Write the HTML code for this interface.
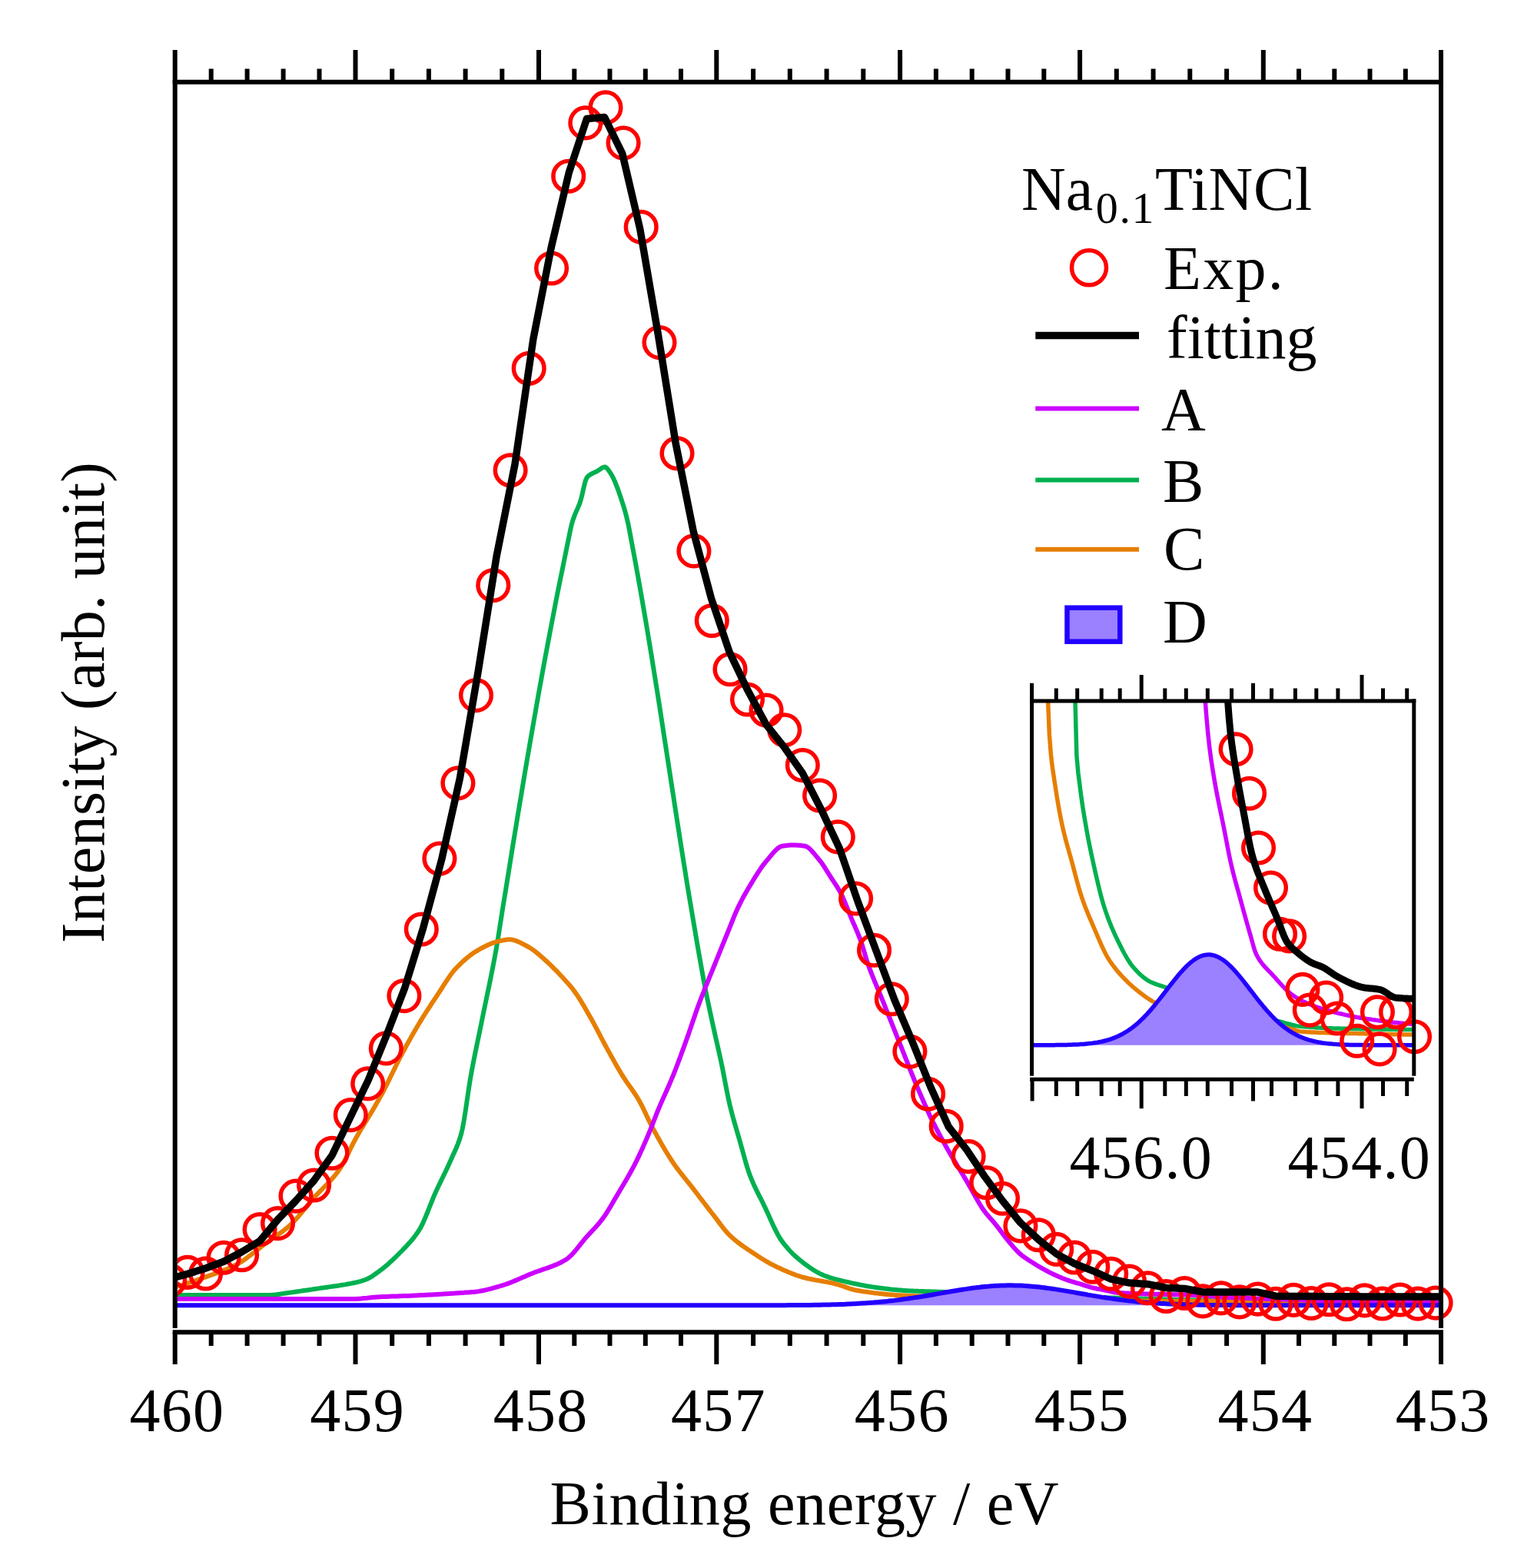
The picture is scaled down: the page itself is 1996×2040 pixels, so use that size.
<!DOCTYPE html>
<html><head><meta charset="utf-8"><title>Na0.1TiNCl XPS</title>
<style>html,body{margin:0;padding:0;background:#fff;overflow:hidden}svg{display:block}</style>
</head><body>
<svg width="1996" height="2040" viewBox="0 0 1996 2040">
<rect width="100%" height="100%" fill="#fff"/>
<defs><clipPath id="cm"><rect x="227" y="100" width="1650" height="1630"/></clipPath><clipPath id="ci"><rect x="1342.6" y="911.9" width="497.2" height="492.3"/></clipPath><clipPath id="cc"><rect x="230.7" y="100" width="1760" height="1628"/></clipPath><clipPath id="cic"><rect x="1345" y="914" width="600" height="488"/></clipPath></defs>
<g clip-path="url(#cm)" fill="none" stroke-linejoin="round" stroke-linecap="butt">
<polyline points="227.7,1684.9 229.7,1684.9 231.7,1684.9 233.7,1684.9 235.7,1684.9 237.7,1684.9 239.7,1684.9 241.7,1684.9 243.7,1684.9 245.7,1684.9 247.7,1684.9 249.7,1684.9 251.7,1684.9 253.7,1684.9 255.7,1684.9 257.7,1684.9 259.7,1684.9 261.7,1684.9 263.7,1684.9 265.7,1684.9 267.7,1684.9 269.7,1684.9 271.7,1684.9 273.7,1684.9 275.7,1684.9 277.7,1684.9 279.7,1684.9 281.7,1684.9 283.7,1684.9 285.7,1684.9 287.7,1684.9 289.7,1684.9 291.7,1684.9 293.7,1684.9 295.7,1684.9 297.7,1684.9 299.7,1684.9 301.7,1684.9 303.7,1684.9 305.7,1684.9 307.7,1684.9 309.7,1684.9 311.7,1684.9 313.7,1684.9 315.7,1684.9 317.7,1684.9 319.7,1684.9 321.7,1684.9 323.7,1684.9 325.7,1684.9 327.7,1684.9 329.7,1684.9 331.7,1684.9 333.7,1684.9 335.7,1684.9 337.7,1684.9 339.7,1684.9 341.7,1684.9 343.7,1684.9 345.7,1684.9 347.7,1684.9 349.7,1684.9 351.7,1684.9 353.7,1684.8 355.7,1684.7 357.7,1684.5 359.7,1684.3 361.7,1684.0 363.7,1683.7 365.7,1683.4 367.7,1683.1 369.7,1682.8 371.7,1682.5 373.7,1682.2 375.7,1681.9 377.7,1681.6 379.7,1681.4 381.7,1681.1 383.7,1680.8 385.7,1680.5 387.7,1680.2 389.7,1679.9 391.7,1679.6 393.7,1679.3 395.7,1679.0 397.7,1678.8 399.7,1678.5 401.7,1678.2 403.7,1677.9 405.7,1677.6 407.7,1677.3 409.7,1677.0 411.7,1676.7 413.7,1676.4 415.7,1676.1 417.7,1675.8 419.7,1675.5 421.7,1675.3 423.7,1675.0 425.7,1674.7 427.7,1674.4 429.7,1674.1 431.7,1673.8 433.7,1673.5 435.7,1673.2 437.7,1673.0 439.7,1672.7 441.7,1672.4 443.7,1672.0 445.7,1671.7 447.7,1671.4 449.7,1671.1 451.7,1670.7 453.7,1670.3 455.7,1670.0 457.7,1669.6 459.7,1669.2 461.7,1668.8 463.7,1668.3 465.7,1667.8 467.7,1667.3 469.7,1666.8 471.7,1666.2 473.7,1665.5 475.7,1664.8 477.7,1664.0 479.7,1663.0 481.7,1661.9 483.7,1660.7 485.7,1659.4 487.7,1658.0 489.7,1656.5 491.7,1655.1 493.7,1653.6 495.7,1652.1 497.7,1650.6 499.7,1649.0 501.7,1647.4 503.7,1645.7 505.7,1643.9 507.7,1642.1 509.7,1640.3 511.7,1638.4 513.7,1636.5 515.7,1634.5 517.7,1632.5 519.7,1630.5 521.7,1628.5 523.7,1626.5 525.7,1624.4 527.7,1622.4 529.7,1620.3 531.7,1618.1 533.7,1615.9 535.7,1613.5 537.7,1611.1 539.7,1608.5 541.7,1605.8 543.7,1602.9 545.7,1599.8 547.7,1596.4 549.7,1592.4 551.7,1588.1 553.7,1583.4 555.7,1578.5 557.7,1573.5 559.7,1568.4 561.7,1563.3 563.7,1558.4 565.7,1553.7 567.7,1549.3 569.7,1545.0 571.7,1540.8 573.7,1536.6 575.7,1532.5 577.7,1528.4 579.7,1524.3 581.7,1520.1 583.7,1515.8 585.7,1511.3 587.7,1506.8 589.7,1502.3 591.7,1497.9 593.7,1493.5 595.7,1488.6 597.7,1483.1 599.7,1476.7 601.7,1468.6 603.7,1457.7 605.7,1445.2 607.7,1431.6 609.7,1418.0 611.7,1405.1 613.7,1393.8 615.7,1383.3 617.7,1373.2 619.7,1363.4 621.7,1353.7 623.7,1344.1 625.7,1334.3 627.7,1324.4 629.7,1314.6 631.7,1305.0 633.7,1295.4 635.7,1285.8 637.7,1276.1 639.7,1266.2 641.7,1256.0 643.7,1245.5 645.7,1234.5 647.7,1222.8 649.7,1210.1 651.7,1197.3 653.7,1184.4 655.7,1172.0 657.7,1159.9 659.7,1147.5 661.7,1135.0 663.7,1122.5 665.7,1110.0 667.7,1097.6 669.7,1085.5 671.7,1073.3 673.7,1061.1 675.7,1049.0 677.7,1037.2 679.7,1025.1 681.7,1012.9 683.7,1000.9 685.7,989.3 687.7,977.7 689.7,966.0 691.7,954.4 693.7,943.0 695.7,931.7 697.7,920.3 699.7,908.9 701.7,897.7 703.7,886.6 705.7,875.6 707.7,864.7 709.7,853.9 711.7,843.2 713.7,832.6 715.7,822.1 717.7,811.8 719.7,801.3 721.7,790.9 723.7,780.5 725.7,770.4 727.7,760.4 729.7,750.6 731.7,740.8 733.7,731.0 735.7,721.1 737.7,711.3 739.7,701.6 741.7,691.6 743.7,682.6 745.7,675.9 747.7,670.4 749.7,665.7 751.7,661.2 753.7,656.4 755.7,650.6 757.7,642.7 759.7,633.7 761.7,625.7 763.7,621.1 765.7,619.2 767.7,617.6 769.7,616.5 771.7,615.5 773.7,614.6 775.7,613.7 777.7,612.6 779.7,611.3 781.7,609.8 783.7,608.5 785.7,607.7 787.7,607.6 789.7,609.1 791.7,611.6 793.7,614.6 795.7,617.7 797.7,621.4 799.7,625.7 801.7,630.6 803.7,635.8 805.7,641.4 807.7,647.3 809.7,653.4 811.7,659.7 813.7,666.6 815.7,674.5 817.7,683.2 819.7,693.6 821.7,704.5 823.7,715.0 825.7,725.7 827.7,736.6 829.7,747.7 831.7,758.9 833.7,770.3 835.7,781.7 837.7,793.3 839.7,805.0 841.7,816.8 843.7,828.8 845.7,840.9 847.7,853.1 849.7,865.6 851.7,878.1 853.7,890.6 855.7,903.1 857.7,915.8 859.7,928.7 861.7,941.8 863.7,955.0 865.7,967.8 867.7,980.7 869.7,993.8 871.7,1006.9 873.7,1019.7 875.7,1032.6 877.7,1045.8 879.7,1058.9 881.7,1071.7 883.7,1084.5 885.7,1097.4 887.7,1110.0 889.7,1122.5 891.7,1135.0 893.7,1147.6 895.7,1159.8 897.7,1171.7 899.7,1183.6 901.7,1195.6 903.7,1207.3 905.7,1219.0 907.7,1230.7 909.7,1242.2 911.7,1253.6 913.7,1264.8 915.7,1275.7 917.7,1286.2 919.7,1296.3 921.7,1305.9 923.7,1315.4 925.7,1324.6 927.7,1333.8 929.7,1343.0 931.7,1351.9 933.7,1360.7 935.7,1369.6 937.7,1378.7 939.7,1388.2 941.7,1398.3 943.7,1408.9 945.7,1419.3 947.7,1429.1 949.7,1438.0 951.7,1446.0 953.7,1453.5 955.7,1460.6 957.7,1467.5 959.7,1474.3 961.7,1481.2 963.7,1488.2 965.7,1495.5 967.7,1502.8 969.7,1510.0 971.7,1516.8 973.7,1523.2 975.7,1528.8 977.7,1533.9 979.7,1538.6 981.7,1543.1 983.7,1547.3 985.7,1551.3 987.7,1555.3 989.7,1559.2 991.7,1563.1 993.7,1567.2 995.7,1571.4 997.7,1575.7 999.7,1580.1 1001.7,1584.6 1003.7,1589.0 1005.7,1593.4 1007.7,1597.6 1009.7,1601.7 1011.7,1605.5 1013.7,1609.1 1015.7,1612.3 1017.7,1615.2 1019.7,1617.8 1021.7,1620.3 1023.7,1622.7 1025.7,1625.0 1027.7,1627.2 1029.7,1629.3 1031.7,1631.3 1033.7,1633.2 1035.7,1635.0 1037.7,1636.8 1039.7,1638.5 1041.7,1640.2 1043.7,1641.7 1045.7,1643.3 1047.7,1644.8 1049.7,1646.2 1051.7,1647.7 1053.7,1649.1 1055.7,1650.4 1057.7,1651.7 1059.7,1653.0 1061.7,1654.2 1063.7,1655.3 1065.7,1656.4 1067.7,1657.4 1069.7,1658.3 1071.7,1659.2 1073.7,1660.0 1075.7,1660.7 1077.7,1661.4 1079.7,1662.1 1081.7,1662.7 1083.7,1663.3 1085.7,1663.9 1087.7,1664.4 1089.7,1664.9 1091.7,1665.4 1093.7,1665.9 1095.7,1666.4 1097.7,1666.9 1099.7,1667.3 1101.7,1667.8 1103.7,1668.2 1105.7,1668.7 1107.7,1669.1 1109.7,1669.6 1111.7,1670.0 1113.7,1670.4 1115.7,1670.8 1117.7,1671.2 1119.7,1671.6 1121.7,1672.0 1123.7,1672.4 1125.7,1672.8 1127.7,1673.1 1129.7,1673.5 1131.7,1673.8 1133.7,1674.1 1135.7,1674.4 1137.7,1674.7 1139.7,1675.0 1141.7,1675.3 1143.7,1675.5 1145.7,1675.8 1147.7,1676.1 1149.7,1676.3 1151.7,1676.6 1153.7,1676.8 1155.7,1677.0 1157.7,1677.3 1159.7,1677.5 1161.7,1677.7 1163.7,1677.9 1165.7,1678.1 1167.7,1678.3 1169.7,1678.5 1171.7,1678.6 1173.7,1678.8 1175.7,1679.0 1177.7,1679.1 1179.7,1679.2 1181.7,1679.3 1183.7,1679.4 1185.7,1679.5 1187.7,1679.6 1189.7,1679.7 1191.7,1679.8 1193.7,1679.8 1195.7,1679.9 1197.7,1680.0 1199.7,1680.0 1201.7,1680.1 1203.7,1680.2 1205.7,1680.2 1207.7,1680.3 1209.7,1680.3 1211.7,1680.4 1213.7,1680.5 1215.7,1680.5 1217.7,1680.6 1219.7,1680.7 1221.7,1680.7 1223.7,1680.8 1225.7,1680.8 1227.7,1680.9 1229.7,1681.0 1231.7,1681.0 1233.7,1681.1 1235.7,1681.1 1237.7,1681.2 1239.7,1681.3 1241.7,1681.3 1243.7,1681.4 1245.7,1681.4 1247.7,1681.5 1249.7,1681.5 1251.7,1681.6 1253.7,1681.6 1255.7,1681.7 1257.7,1681.8 1259.7,1681.8 1261.7,1681.9 1263.7,1681.9 1265.7,1682.0 1267.7,1682.0 1269.7,1682.1 1271.7,1682.1 1273.7,1682.2 1275.7,1682.3 1277.7,1682.3 1279.7,1682.4 1281.7,1682.4 1283.7,1682.5 1285.7,1682.5 1287.7,1682.6 1289.7,1682.7 1291.7,1682.7 1293.7,1682.8 1295.7,1682.9 1297.7,1682.9 1299.7,1683.0 1301.7,1683.1 1303.7,1683.1 1305.7,1683.2 1307.7,1683.3 1309.7,1683.3 1311.7,1683.4 1313.7,1683.5 1315.7,1683.6 1317.7,1683.6 1319.7,1683.7 1321.7,1683.8 1323.7,1683.9 1325.7,1684.0 1327.7,1684.0 1329.7,1684.1 1331.7,1684.2 1333.7,1684.3 1335.7,1684.4 1337.7,1684.5 1339.7,1684.6 1341.7,1684.6 1343.7,1684.7 1345.7,1684.8 1347.7,1684.9 1349.7,1685.0 1351.7,1685.1 1353.7,1685.2 1355.7,1685.2 1357.7,1685.3 1359.7,1685.4 1361.7,1685.5 1363.7,1685.6 1365.7,1685.7 1367.7,1685.7 1369.7,1685.8 1371.7,1685.9 1373.7,1686.0 1375.7,1686.1 1377.7,1686.2 1379.7,1686.2 1381.7,1686.3 1383.7,1686.4 1385.7,1686.5 1387.7,1686.6 1389.7,1686.6 1391.7,1686.7 1393.7,1686.8 1395.7,1686.8 1397.7,1686.9 1399.7,1687.0 1401.7,1687.1 1403.7,1687.1 1405.7,1687.2 1407.7,1687.3 1409.7,1687.3 1411.7,1687.4 1413.7,1687.5 1415.7,1687.5 1417.7,1687.6 1419.7,1687.7 1421.7,1687.7 1423.7,1687.8 1425.7,1687.9 1427.7,1687.9 1429.7,1688.0 1431.7,1688.0 1433.7,1688.1 1435.7,1688.2 1437.7,1688.2 1439.7,1688.3 1441.7,1688.4 1443.7,1688.4 1445.7,1688.5 1447.7,1688.5 1449.7,1688.6 1451.7,1688.7 1453.7,1688.7 1455.7,1688.8 1457.7,1688.8 1459.7,1688.9 1461.7,1688.9 1463.7,1689.0 1465.7,1689.1 1467.7,1689.1 1469.7,1689.2 1471.7,1689.2 1473.7,1689.3 1475.7,1689.3 1477.7,1689.4 1479.7,1689.5 1481.7,1689.5 1483.7,1689.6 1485.7,1689.6 1487.7,1689.7 1489.7,1689.7 1491.7,1689.8 1493.7,1689.8 1495.7,1689.9 1497.7,1689.9 1499.7,1690.0 1501.7,1690.0 1503.7,1690.1 1505.7,1690.2 1507.7,1690.2 1509.7,1690.3 1511.7,1690.3 1513.7,1690.4 1515.7,1690.4 1517.7,1690.5 1519.7,1690.5 1521.7,1690.6 1523.7,1690.7 1525.7,1690.7 1527.7,1690.8 1529.7,1690.8 1531.7,1690.9 1533.7,1691.0 1535.7,1691.0 1537.7,1691.1 1539.7,1691.1 1541.7,1691.2 1543.7,1691.3 1545.7,1691.3 1547.7,1691.4 1549.7,1691.4 1551.7,1691.5 1553.7,1691.6 1555.7,1691.6 1557.7,1691.7 1559.7,1691.7 1561.7,1691.8 1563.7,1691.9 1565.7,1691.9 1567.7,1692.0 1569.7,1692.0 1571.7,1692.1 1573.7,1692.1 1575.7,1692.2 1577.7,1692.2 1579.7,1692.3 1581.7,1692.3 1583.7,1692.4 1585.7,1692.5 1587.7,1692.5 1589.7,1692.6 1591.7,1692.6 1593.7,1692.6 1595.7,1692.7 1597.7,1692.7 1599.7,1692.8 1601.7,1692.8 1603.7,1692.9 1605.7,1692.9 1607.7,1692.9 1609.7,1693.0 1611.7,1693.0 1613.7,1693.1 1615.7,1693.1 1617.7,1693.1 1619.7,1693.1 1621.7,1693.2 1623.7,1693.2 1625.7,1693.2 1627.7,1693.3 1629.7,1693.3 1631.7,1693.3 1633.7,1693.3 1635.7,1693.3 1637.7,1693.3 1639.7,1693.4 1641.7,1693.4 1643.7,1693.4 1645.7,1693.4 1647.7,1693.4 1649.7,1693.4 1651.7,1693.4 1653.7,1693.4 1655.7,1693.4 1657.7,1693.4 1659.7,1693.4 1661.7,1693.4 1663.7,1693.4 1665.7,1693.4 1667.7,1693.4 1669.7,1693.4 1671.7,1693.4 1673.7,1693.4 1675.7,1693.4 1677.7,1693.4 1679.7,1693.4 1681.7,1693.4 1683.7,1693.4 1685.7,1693.4 1687.7,1693.4 1689.7,1693.4 1691.7,1693.4 1693.7,1693.4 1695.7,1693.4 1697.7,1693.4 1699.7,1693.4 1701.7,1693.4 1703.7,1693.4 1705.7,1693.4 1707.7,1693.4 1709.7,1693.4 1711.7,1693.4 1713.7,1693.5 1715.7,1693.5 1717.7,1693.5 1719.7,1693.5 1721.7,1693.5 1723.7,1693.5 1725.7,1693.5 1727.7,1693.5 1729.7,1693.5 1731.7,1693.5 1733.7,1693.5 1735.7,1693.5 1737.7,1693.5 1739.7,1693.5 1741.7,1693.5 1743.7,1693.5 1745.7,1693.5 1747.7,1693.5 1749.7,1693.5 1751.7,1693.5 1753.7,1693.5 1755.7,1693.5 1757.7,1693.5 1759.7,1693.5 1761.7,1693.5 1763.7,1693.5 1765.7,1693.5 1767.7,1693.5 1769.7,1693.5 1771.7,1693.5 1773.7,1693.5 1775.7,1693.5 1777.7,1693.5 1779.7,1693.5 1781.7,1693.5 1783.7,1693.5 1785.7,1693.5 1787.7,1693.5 1789.7,1693.5 1791.7,1693.5 1793.7,1693.5 1795.7,1693.5 1797.7,1693.5 1799.7,1693.5 1801.7,1693.5 1803.7,1693.5 1805.7,1693.5 1807.7,1693.5 1809.7,1693.5 1811.7,1693.5 1813.7,1693.5 1815.7,1693.5 1817.7,1693.5 1819.7,1693.5 1821.7,1693.5 1823.7,1693.5 1825.7,1693.5 1827.7,1693.5 1829.7,1693.5 1831.7,1693.5 1833.7,1693.5 1835.7,1693.5 1837.7,1693.5 1839.7,1693.5 1841.7,1693.5 1843.7,1693.5 1845.7,1693.5 1847.7,1693.5 1849.7,1693.5 1851.7,1693.5 1853.7,1693.5 1855.7,1693.5 1857.7,1693.5 1859.7,1693.5 1861.7,1693.5 1863.7,1693.5 1865.7,1693.5 1867.7,1693.5 1869.7,1693.5 1871.7,1693.5 1873.7,1693.5 1875.0,1693.5" stroke="#00b050" stroke-width="6"/>
<polyline points="227.7,1674.6 229.7,1674.0 231.7,1673.4 233.7,1672.8 235.7,1672.2 237.7,1671.5 239.7,1670.9 241.7,1670.3 243.7,1669.6 245.7,1669.0 247.7,1668.3 249.7,1667.6 251.7,1667.0 253.7,1666.3 255.7,1665.6 257.7,1664.9 259.7,1664.2 261.7,1663.5 263.7,1662.8 265.7,1662.1 267.7,1661.4 269.7,1660.6 271.7,1659.9 273.7,1659.2 275.7,1658.5 277.7,1657.8 279.7,1657.1 281.7,1656.4 283.7,1655.6 285.7,1654.9 287.7,1654.1 289.7,1653.4 291.7,1652.6 293.7,1651.8 295.7,1650.9 297.7,1650.1 299.7,1649.2 301.7,1648.3 303.7,1647.3 305.7,1646.3 307.7,1645.3 309.7,1644.2 311.7,1643.0 313.7,1641.7 315.7,1640.4 317.7,1639.1 319.7,1637.7 321.7,1636.2 323.7,1634.7 325.7,1633.2 327.7,1631.6 329.7,1630.1 331.7,1628.5 333.7,1626.9 335.7,1625.3 337.7,1623.8 339.7,1622.2 341.7,1620.6 343.7,1619.1 345.7,1617.6 347.7,1616.2 349.7,1614.7 351.7,1613.3 353.7,1611.9 355.7,1610.5 357.7,1609.1 359.7,1607.8 361.7,1606.3 363.7,1604.9 365.7,1603.5 367.7,1602.0 369.7,1600.4 371.7,1598.8 373.7,1597.2 375.7,1595.5 377.7,1593.7 379.7,1591.8 381.7,1589.8 383.7,1587.7 385.7,1585.5 387.7,1583.3 389.7,1580.9 391.7,1578.6 393.7,1576.1 395.7,1573.7 397.7,1571.2 399.7,1568.8 401.7,1566.3 403.7,1563.9 405.7,1561.5 407.7,1559.2 409.7,1556.9 411.7,1554.7 413.7,1552.6 415.7,1550.6 417.7,1548.5 419.7,1546.5 421.7,1544.5 423.7,1542.5 425.7,1540.5 427.7,1538.4 429.7,1536.3 431.7,1534.0 433.7,1531.7 435.7,1529.3 437.7,1526.8 439.7,1524.1 441.7,1521.3 443.7,1518.2 445.7,1514.7 447.7,1511.1 449.7,1507.3 451.7,1503.3 453.7,1499.3 455.7,1495.2 457.7,1491.2 459.7,1487.2 461.7,1483.4 463.7,1479.7 465.7,1476.2 467.7,1472.7 469.7,1469.4 471.7,1466.1 473.7,1462.8 475.7,1459.5 477.7,1456.3 479.7,1453.0 481.7,1449.7 483.7,1446.4 485.7,1443.0 487.7,1439.6 489.7,1436.1 491.7,1432.6 493.7,1429.0 495.7,1425.4 497.7,1421.7 499.7,1417.9 501.7,1414.0 503.7,1410.1 505.7,1406.0 507.7,1401.9 509.7,1397.8 511.7,1393.7 513.7,1389.6 515.7,1385.5 517.7,1381.5 519.7,1377.5 521.7,1373.7 523.7,1369.9 525.7,1366.2 527.7,1362.5 529.7,1358.8 531.7,1355.2 533.7,1351.6 535.7,1348.1 537.7,1344.6 539.7,1341.1 541.7,1337.7 543.7,1334.3 545.7,1330.9 547.7,1327.6 549.7,1324.4 551.7,1321.2 553.7,1318.0 555.7,1314.9 557.7,1311.8 559.7,1308.8 561.7,1305.7 563.7,1302.7 565.7,1299.7 567.7,1296.7 569.7,1293.7 571.7,1290.6 573.7,1287.5 575.7,1284.4 577.7,1281.2 579.7,1278.1 581.7,1275.1 583.7,1272.1 585.7,1269.2 587.7,1266.5 589.7,1263.9 591.7,1261.5 593.7,1259.4 595.7,1257.3 597.7,1255.3 599.7,1253.3 601.7,1251.4 603.7,1249.6 605.7,1247.9 607.7,1246.2 609.7,1244.6 611.7,1243.0 613.7,1241.5 615.7,1240.1 617.7,1238.8 619.7,1237.6 621.7,1236.4 623.7,1235.2 625.7,1234.1 627.7,1233.0 629.7,1232.0 631.7,1231.0 633.7,1230.0 635.7,1229.1 637.7,1228.2 639.7,1227.4 641.7,1226.7 643.7,1226.0 645.7,1225.4 647.7,1224.9 649.7,1224.4 651.7,1223.9 653.7,1223.5 655.7,1223.1 657.7,1222.7 659.7,1222.5 661.7,1222.3 663.7,1222.3 665.7,1222.5 667.7,1222.9 669.7,1223.4 671.7,1224.1 673.7,1224.9 675.7,1225.8 677.7,1226.7 679.7,1227.8 681.7,1228.8 683.7,1229.9 685.7,1231.0 687.7,1232.0 689.7,1233.2 691.7,1234.5 693.7,1235.9 695.7,1237.4 697.7,1239.0 699.7,1240.6 701.7,1242.3 703.7,1244.1 705.7,1245.8 707.7,1247.6 709.7,1249.4 711.7,1251.1 713.7,1253.0 715.7,1254.9 717.7,1256.8 719.7,1258.8 721.7,1260.8 723.7,1262.8 725.7,1264.9 727.7,1267.0 729.7,1269.2 731.7,1271.3 733.7,1273.5 735.7,1275.7 737.7,1277.9 739.7,1280.1 741.7,1282.5 743.7,1284.9 745.7,1287.4 747.7,1290.1 749.7,1292.9 751.7,1295.9 753.7,1299.0 755.7,1302.2 757.7,1305.5 759.7,1308.8 761.7,1312.3 763.7,1315.7 765.7,1319.2 767.7,1322.7 769.7,1326.2 771.7,1329.9 773.7,1333.6 775.7,1337.4 777.7,1341.2 779.7,1345.0 781.7,1348.9 783.7,1352.7 785.7,1356.5 787.7,1360.2 789.7,1363.9 791.7,1367.5 793.7,1371.1 795.7,1374.7 797.7,1378.3 799.7,1381.9 801.7,1385.4 803.7,1388.9 805.7,1392.3 807.7,1395.7 809.7,1399.0 811.7,1402.1 813.7,1405.2 815.7,1408.1 817.7,1411.0 819.7,1413.8 821.7,1416.6 823.7,1419.5 825.7,1422.5 827.7,1425.5 829.7,1428.7 831.7,1432.1 833.7,1435.8 835.7,1439.7 837.7,1443.8 839.7,1447.9 841.7,1452.2 843.7,1456.4 845.7,1460.5 847.7,1464.5 849.7,1468.3 851.7,1472.0 853.7,1475.6 855.7,1479.2 857.7,1482.8 859.7,1486.4 861.7,1489.9 863.7,1493.3 865.7,1496.7 867.7,1500.0 869.7,1503.3 871.7,1506.4 873.7,1509.5 875.7,1512.5 877.7,1515.4 879.7,1518.2 881.7,1520.9 883.7,1523.5 885.7,1526.1 887.7,1528.7 889.7,1531.2 891.7,1533.7 893.7,1536.1 895.7,1538.6 897.7,1541.1 899.7,1543.6 901.7,1546.2 903.7,1548.8 905.7,1551.4 907.7,1554.0 909.7,1556.7 911.7,1559.3 913.7,1561.9 915.7,1564.5 917.7,1567.1 919.7,1569.7 921.7,1572.3 923.7,1574.9 925.7,1577.5 927.7,1580.0 929.7,1582.6 931.7,1585.2 933.7,1587.9 935.7,1590.6 937.7,1593.3 939.7,1595.9 941.7,1598.5 943.7,1600.9 945.7,1603.2 947.7,1605.4 949.7,1607.4 951.7,1609.2 953.7,1611.0 955.7,1612.7 957.7,1614.4 959.7,1616.0 961.7,1617.5 963.7,1619.0 965.7,1620.5 967.7,1621.9 969.7,1623.3 971.7,1624.6 973.7,1626.0 975.7,1627.3 977.7,1628.6 979.7,1630.0 981.7,1631.3 983.7,1632.6 985.7,1633.9 987.7,1635.2 989.7,1636.5 991.7,1637.8 993.7,1639.0 995.7,1640.2 997.7,1641.4 999.7,1642.5 1001.7,1643.7 1003.7,1644.7 1005.7,1645.8 1007.7,1646.7 1009.7,1647.7 1011.7,1648.7 1013.7,1649.6 1015.7,1650.5 1017.7,1651.5 1019.7,1652.4 1021.7,1653.3 1023.7,1654.1 1025.7,1655.0 1027.7,1655.8 1029.7,1656.6 1031.7,1657.4 1033.7,1658.1 1035.7,1658.9 1037.7,1659.6 1039.7,1660.2 1041.7,1660.9 1043.7,1661.5 1045.7,1662.0 1047.7,1662.5 1049.7,1663.0 1051.7,1663.5 1053.7,1663.9 1055.7,1664.3 1057.7,1664.7 1059.7,1665.1 1061.7,1665.5 1063.7,1665.8 1065.7,1666.1 1067.7,1666.5 1069.7,1666.8 1071.7,1667.2 1073.7,1667.5 1075.7,1667.9 1077.7,1668.3 1079.7,1668.7 1081.7,1669.1 1083.7,1669.5 1085.7,1670.0 1087.7,1670.5 1089.7,1671.1 1091.7,1671.7 1093.7,1672.3 1095.7,1673.0 1097.7,1673.7 1099.7,1674.4 1101.7,1675.1 1103.7,1675.8 1105.7,1676.5 1107.7,1677.1 1109.7,1677.7 1111.7,1678.2 1113.7,1678.6 1115.7,1679.0 1117.7,1679.3 1119.7,1679.6 1121.7,1680.0 1123.7,1680.3 1125.7,1680.5 1127.7,1680.8 1129.7,1681.1 1131.7,1681.4 1133.7,1681.6 1135.7,1681.9 1137.7,1682.2 1139.7,1682.4 1141.7,1682.6 1143.7,1682.9 1145.7,1683.1 1147.7,1683.3 1149.7,1683.5 1151.7,1683.7 1153.7,1683.9 1155.7,1684.1 1157.7,1684.2 1159.7,1684.4 1161.7,1684.6 1163.7,1684.7 1165.7,1684.9 1167.7,1685.0 1169.7,1685.2 1171.7,1685.3 1173.7,1685.4 1175.7,1685.5 1177.7,1685.6 1179.7,1685.7 1181.7,1685.8 1183.7,1685.9 1185.7,1686.0 1187.7,1686.1 1189.7,1686.2 1191.7,1686.2 1193.7,1686.3 1195.7,1686.4 1197.7,1686.5 1199.7,1686.5 1201.7,1686.6 1203.7,1686.7 1205.7,1686.8 1207.7,1686.8 1209.7,1686.9 1211.7,1687.0 1213.7,1687.0 1215.7,1687.1 1217.7,1687.1 1219.7,1687.2 1221.7,1687.3 1223.7,1687.3 1225.7,1687.4 1227.7,1687.4 1229.7,1687.5 1231.7,1687.5 1233.7,1687.6 1235.7,1687.6 1237.7,1687.7 1239.7,1687.7 1241.7,1687.8 1243.7,1687.8 1245.7,1687.9 1247.7,1687.9 1249.7,1687.9 1251.7,1688.0 1253.7,1688.0 1255.7,1688.1 1257.7,1688.1 1259.7,1688.2 1261.7,1688.2 1263.7,1688.2 1265.7,1688.3 1267.7,1688.3 1269.7,1688.4 1271.7,1688.4 1273.7,1688.4 1275.7,1688.5 1277.7,1688.5 1279.7,1688.6 1281.7,1688.6 1283.7,1688.7 1285.7,1688.7 1287.7,1688.7 1289.7,1688.8 1291.7,1688.8 1293.7,1688.9 1295.7,1688.9 1297.7,1688.9 1299.7,1689.0 1301.7,1689.0 1303.7,1689.1 1305.7,1689.1 1307.7,1689.2 1309.7,1689.2 1311.7,1689.3 1313.7,1689.3 1315.7,1689.4 1317.7,1689.4 1319.7,1689.4 1321.7,1689.5 1323.7,1689.5 1325.7,1689.6 1327.7,1689.6 1329.7,1689.7 1331.7,1689.7 1333.7,1689.8 1335.7,1689.8 1337.7,1689.9 1339.7,1689.9 1341.7,1689.9 1343.7,1690.0 1345.7,1690.0 1347.7,1690.1 1349.7,1690.1 1351.7,1690.2 1353.7,1690.2 1355.7,1690.3 1357.7,1690.3 1359.7,1690.4 1361.7,1690.4 1363.7,1690.4 1365.7,1690.5 1367.7,1690.5 1369.7,1690.6 1371.7,1690.6 1373.7,1690.7 1375.7,1690.7 1377.7,1690.7 1379.7,1690.8 1381.7,1690.8 1383.7,1690.9 1385.7,1690.9 1387.7,1691.0 1389.7,1691.0 1391.7,1691.0 1393.7,1691.1 1395.7,1691.1 1397.7,1691.2 1399.7,1691.2 1401.7,1691.2 1403.7,1691.3 1405.7,1691.3 1407.7,1691.4 1409.7,1691.4 1411.7,1691.4 1413.7,1691.5 1415.7,1691.5 1417.7,1691.5 1419.7,1691.6 1421.7,1691.6 1423.7,1691.6 1425.7,1691.7 1427.7,1691.7 1429.7,1691.7 1431.7,1691.8 1433.7,1691.8 1435.7,1691.8 1437.7,1691.9 1439.7,1691.9 1441.7,1691.9 1443.7,1692.0 1445.7,1692.0 1447.7,1692.0 1449.7,1692.1 1451.7,1692.1 1453.7,1692.1 1455.7,1692.1 1457.7,1692.2 1459.7,1692.2 1461.7,1692.2 1463.7,1692.2 1465.7,1692.3 1467.7,1692.3 1469.7,1692.3 1471.7,1692.3 1473.7,1692.3 1475.7,1692.4 1477.7,1692.4 1479.7,1692.4 1481.7,1692.4 1483.7,1692.4 1485.7,1692.5 1487.7,1692.5 1489.7,1692.5 1491.7,1692.5 1493.7,1692.5 1495.7,1692.5 1497.7,1692.6 1499.7,1692.6 1501.7,1692.6 1503.7,1692.6 1505.7,1692.6 1507.7,1692.6 1509.7,1692.6 1511.7,1692.7 1513.7,1692.7 1515.7,1692.7 1517.7,1692.7 1519.7,1692.7 1521.7,1692.7 1523.7,1692.8 1525.7,1692.8 1527.7,1692.8 1529.7,1692.8 1531.7,1692.8 1533.7,1692.8 1535.7,1692.8 1537.7,1692.8 1539.7,1692.9 1541.7,1692.9 1543.7,1692.9 1545.7,1692.9 1547.7,1692.9 1549.7,1692.9 1551.7,1692.9 1553.7,1692.9 1555.7,1693.0 1557.7,1693.0 1559.7,1693.0 1561.7,1693.0 1563.7,1693.0 1565.7,1693.0 1567.7,1693.0 1569.7,1693.0 1571.7,1693.1 1573.7,1693.1 1575.7,1693.1 1577.7,1693.1 1579.7,1693.1 1581.7,1693.1 1583.7,1693.1 1585.7,1693.1 1587.7,1693.1 1589.7,1693.1 1591.7,1693.2 1593.7,1693.2 1595.7,1693.2 1597.7,1693.2 1599.7,1693.2 1601.7,1693.2 1603.7,1693.2 1605.7,1693.2 1607.7,1693.2 1609.7,1693.2 1611.7,1693.3 1613.7,1693.3 1615.7,1693.3 1617.7,1693.3 1619.7,1693.3 1621.7,1693.3 1623.7,1693.3 1625.7,1693.3 1627.7,1693.3 1629.7,1693.3 1631.7,1693.3 1633.7,1693.3 1635.7,1693.4 1637.7,1693.4 1639.7,1693.4 1641.7,1693.4 1643.7,1693.4 1645.7,1693.4 1647.7,1693.4 1649.7,1693.4 1651.7,1693.4 1653.7,1693.4 1655.7,1693.4 1657.7,1693.4 1659.7,1693.4 1661.7,1693.5 1663.7,1693.5 1665.7,1693.5 1667.7,1693.5 1669.7,1693.5 1671.7,1693.5 1673.7,1693.5 1675.7,1693.5 1677.7,1693.5 1679.7,1693.5 1681.7,1693.5 1683.7,1693.5 1685.7,1693.5 1687.7,1693.5 1689.7,1693.6 1691.7,1693.6 1693.7,1693.6 1695.7,1693.6 1697.7,1693.6 1699.7,1693.6 1701.7,1693.6 1703.7,1693.6 1705.7,1693.6 1707.7,1693.6 1709.7,1693.6 1711.7,1693.6 1713.7,1693.6 1715.7,1693.6 1717.7,1693.6 1719.7,1693.7 1721.7,1693.7 1723.7,1693.7 1725.7,1693.7 1727.7,1693.7 1729.7,1693.7 1731.7,1693.7 1733.7,1693.7 1735.7,1693.7 1737.7,1693.7 1739.7,1693.7 1741.7,1693.7 1743.7,1693.7 1745.7,1693.7 1747.7,1693.7 1749.7,1693.8 1751.7,1693.8 1753.7,1693.8 1755.7,1693.8 1757.7,1693.8 1759.7,1693.8 1761.7,1693.8 1763.7,1693.8 1765.7,1693.8 1767.7,1693.8 1769.7,1693.8 1771.7,1693.8 1773.7,1693.8 1775.7,1693.8 1777.7,1693.8 1779.7,1693.8 1781.7,1693.8 1783.7,1693.8 1785.7,1693.8 1787.7,1693.9 1789.7,1693.9 1791.7,1693.9 1793.7,1693.9 1795.7,1693.9 1797.7,1693.9 1799.7,1693.9 1801.7,1693.9 1803.7,1693.9 1805.7,1693.9 1807.7,1693.9 1809.7,1693.9 1811.7,1693.9 1813.7,1693.9 1815.7,1693.9 1817.7,1693.9 1819.7,1693.9 1821.7,1693.9 1823.7,1693.9 1825.7,1693.9 1827.7,1693.9 1829.7,1693.9 1831.7,1693.9 1833.7,1694.0 1835.7,1694.0 1837.7,1694.0 1839.7,1694.0 1841.7,1694.0 1843.7,1694.0 1845.7,1694.0 1847.7,1694.0 1849.7,1694.0 1851.7,1694.0 1853.7,1694.0 1855.7,1694.0 1857.7,1694.0 1859.7,1694.0 1861.7,1694.0 1863.7,1694.0 1865.7,1694.0 1867.7,1694.0 1869.7,1694.0 1871.7,1694.0 1873.7,1694.0 1875.0,1694.0" stroke="#e67e00" stroke-width="6"/>
<polyline points="227.7,1690.0 229.7,1690.0 231.7,1690.0 233.7,1690.0 235.7,1690.0 237.7,1690.0 239.7,1690.0 241.7,1690.0 243.7,1690.0 245.7,1690.0 247.7,1690.0 249.7,1690.0 251.7,1690.0 253.7,1690.0 255.7,1690.0 257.7,1690.0 259.7,1690.0 261.7,1690.0 263.7,1690.0 265.7,1690.0 267.7,1690.0 269.7,1690.0 271.7,1690.0 273.7,1690.0 275.7,1690.0 277.7,1690.0 279.7,1690.0 281.7,1690.0 283.7,1690.0 285.7,1690.0 287.7,1690.0 289.7,1690.0 291.7,1690.0 293.7,1690.0 295.7,1690.0 297.7,1690.0 299.7,1690.0 301.7,1690.0 303.7,1690.0 305.7,1690.0 307.7,1690.0 309.7,1690.0 311.7,1690.0 313.7,1690.0 315.7,1690.0 317.7,1690.0 319.7,1690.0 321.7,1690.0 323.7,1690.0 325.7,1690.0 327.7,1690.0 329.7,1690.0 331.7,1690.0 333.7,1690.0 335.7,1690.0 337.7,1690.0 339.7,1690.0 341.7,1690.0 343.7,1690.0 345.7,1690.0 347.7,1690.0 349.7,1690.0 351.7,1690.0 353.7,1690.0 355.7,1690.0 357.7,1690.0 359.7,1690.0 361.7,1690.0 363.7,1690.0 365.7,1690.0 367.7,1690.0 369.7,1690.0 371.7,1690.0 373.7,1690.0 375.7,1690.0 377.7,1690.0 379.7,1690.0 381.7,1690.0 383.7,1690.0 385.7,1690.0 387.7,1690.0 389.7,1690.0 391.7,1690.0 393.7,1690.0 395.7,1690.0 397.7,1690.0 399.7,1690.0 401.7,1690.0 403.7,1690.0 405.7,1690.0 407.7,1690.0 409.7,1690.0 411.7,1690.0 413.7,1690.0 415.7,1690.0 417.7,1690.0 419.7,1690.0 421.7,1690.0 423.7,1690.0 425.7,1690.0 427.7,1690.0 429.7,1690.0 431.7,1690.0 433.7,1690.0 435.7,1690.0 437.7,1690.0 439.7,1690.0 441.7,1690.0 443.7,1690.0 445.7,1690.0 447.7,1690.0 449.7,1690.0 451.7,1690.0 453.7,1690.0 455.7,1690.0 457.7,1690.0 459.7,1690.0 461.7,1690.0 463.7,1689.9 465.7,1689.8 467.7,1689.7 469.7,1689.5 471.7,1689.3 473.7,1689.1 475.7,1688.9 477.7,1688.7 479.7,1688.4 481.7,1688.2 483.7,1688.0 485.7,1687.8 487.7,1687.7 489.7,1687.5 491.7,1687.4 493.7,1687.3 495.7,1687.2 497.7,1687.1 499.7,1687.0 501.7,1686.9 503.7,1686.9 505.7,1686.8 507.7,1686.7 509.7,1686.6 511.7,1686.6 513.7,1686.5 515.7,1686.4 517.7,1686.4 519.7,1686.3 521.7,1686.2 523.7,1686.1 525.7,1686.1 527.7,1686.0 529.7,1685.9 531.7,1685.9 533.7,1685.8 535.7,1685.7 537.7,1685.6 539.7,1685.5 541.7,1685.4 543.7,1685.3 545.7,1685.2 547.7,1685.1 549.7,1685.0 551.7,1684.9 553.7,1684.8 555.7,1684.7 557.7,1684.6 559.7,1684.5 561.7,1684.4 563.7,1684.3 565.7,1684.2 567.7,1684.0 569.7,1683.9 571.7,1683.8 573.7,1683.7 575.7,1683.6 577.7,1683.4 579.7,1683.3 581.7,1683.2 583.7,1683.1 585.7,1682.9 587.7,1682.8 589.7,1682.7 591.7,1682.6 593.7,1682.4 595.7,1682.3 597.7,1682.2 599.7,1682.0 601.7,1681.9 603.7,1681.8 605.7,1681.6 607.7,1681.5 609.7,1681.4 611.7,1681.2 613.7,1681.1 615.7,1680.9 617.7,1680.7 619.7,1680.4 621.7,1680.2 623.7,1679.9 625.7,1679.5 627.7,1679.2 629.7,1678.8 631.7,1678.3 633.7,1677.9 635.7,1677.4 637.7,1676.9 639.7,1676.3 641.7,1675.8 643.7,1675.2 645.7,1674.7 647.7,1674.1 649.7,1673.5 651.7,1672.9 653.7,1672.3 655.7,1671.7 657.7,1671.0 659.7,1670.3 661.7,1669.6 663.7,1668.8 665.7,1668.1 667.7,1667.2 669.7,1666.4 671.7,1665.6 673.7,1664.7 675.7,1663.8 677.7,1663.0 679.7,1662.1 681.7,1661.2 683.7,1660.4 685.7,1659.5 687.7,1658.6 689.7,1657.8 691.7,1657.0 693.7,1656.2 695.7,1655.4 697.7,1654.7 699.7,1654.0 701.7,1653.3 703.7,1652.6 705.7,1651.9 707.7,1651.2 709.7,1650.5 711.7,1649.9 713.7,1649.2 715.7,1648.4 717.7,1647.7 719.7,1646.9 721.7,1646.1 723.7,1645.3 725.7,1644.4 727.7,1643.5 729.7,1642.5 731.7,1641.4 733.7,1640.3 735.7,1639.2 737.7,1637.9 739.7,1636.3 741.7,1634.6 743.7,1632.6 745.7,1630.5 747.7,1628.2 749.7,1625.8 751.7,1623.3 753.7,1620.8 755.7,1618.3 757.7,1615.8 759.7,1613.3 761.7,1610.9 763.7,1608.7 765.7,1606.5 767.7,1604.4 769.7,1602.3 771.7,1600.1 773.7,1598.0 775.7,1595.8 777.7,1593.5 779.7,1591.2 781.7,1588.7 783.7,1586.1 785.7,1583.4 787.7,1580.5 789.7,1577.4 791.7,1574.2 793.7,1570.9 795.7,1567.5 797.7,1564.1 799.7,1560.6 801.7,1557.2 803.7,1553.8 805.7,1550.4 807.7,1547.0 809.7,1543.7 811.7,1540.3 813.7,1536.9 815.7,1533.5 817.7,1530.0 819.7,1526.5 821.7,1522.8 823.7,1519.1 825.7,1515.3 827.7,1511.3 829.7,1507.3 831.7,1503.1 833.7,1498.8 835.7,1494.4 837.7,1489.9 839.7,1485.4 841.7,1480.8 843.7,1476.0 845.7,1471.1 847.7,1466.1 849.7,1460.9 851.7,1455.8 853.7,1450.7 855.7,1445.7 857.7,1440.9 859.7,1436.2 861.7,1431.6 863.7,1427.1 865.7,1422.7 867.7,1418.2 869.7,1413.7 871.7,1409.1 873.7,1404.4 875.7,1399.6 877.7,1394.6 879.7,1389.5 881.7,1384.2 883.7,1378.9 885.7,1373.5 887.7,1368.0 889.7,1362.6 891.7,1357.0 893.7,1351.4 895.7,1345.7 897.7,1339.9 899.7,1334.0 901.7,1328.2 903.7,1322.4 905.7,1316.6 907.7,1311.0 909.7,1305.5 911.7,1300.2 913.7,1295.1 915.7,1290.0 917.7,1284.9 919.7,1280.0 921.7,1275.1 923.7,1270.2 925.7,1265.3 927.7,1260.4 929.7,1255.5 931.7,1250.5 933.7,1245.6 935.7,1240.6 937.7,1235.6 939.7,1230.7 941.7,1225.8 943.7,1220.9 945.7,1216.0 947.7,1211.1 949.7,1206.1 951.7,1201.1 953.7,1196.1 955.7,1191.2 957.7,1186.5 959.7,1182.1 961.7,1177.9 963.7,1173.9 965.7,1170.0 967.7,1166.3 969.7,1162.7 971.7,1159.2 973.7,1155.8 975.7,1152.4 977.7,1149.1 979.7,1145.8 981.7,1142.5 983.7,1139.3 985.7,1136.1 987.7,1133.1 989.7,1130.1 991.7,1127.3 993.7,1124.6 995.7,1122.1 997.7,1119.7 999.7,1117.3 1001.7,1114.9 1003.7,1112.4 1005.7,1110.1 1007.7,1107.8 1009.7,1105.8 1011.7,1104.0 1013.7,1102.5 1015.7,1101.4 1017.7,1100.8 1019.7,1100.5 1021.7,1100.2 1023.7,1100.0 1025.7,1099.8 1027.7,1099.6 1029.7,1099.5 1031.7,1099.5 1033.7,1099.5 1035.7,1099.6 1037.7,1099.7 1039.7,1099.8 1041.7,1100.0 1043.7,1100.3 1045.7,1100.5 1047.7,1100.8 1049.7,1101.6 1051.7,1102.8 1053.7,1104.5 1055.7,1106.5 1057.7,1108.7 1059.7,1111.0 1061.7,1113.5 1063.7,1115.9 1065.7,1118.3 1067.7,1120.8 1069.7,1123.6 1071.7,1126.5 1073.7,1129.6 1075.7,1132.8 1077.7,1136.0 1079.7,1139.2 1081.7,1142.3 1083.7,1145.3 1085.7,1148.3 1087.7,1151.4 1089.7,1154.5 1091.7,1157.9 1093.7,1161.5 1095.7,1165.4 1097.7,1169.9 1099.7,1174.6 1101.7,1179.6 1103.7,1184.7 1105.7,1189.7 1107.7,1194.6 1109.7,1199.3 1111.7,1203.8 1113.7,1208.4 1115.7,1213.1 1117.7,1218.0 1119.7,1223.2 1121.7,1229.0 1123.7,1235.6 1125.7,1242.5 1127.7,1249.2 1129.7,1255.1 1131.7,1260.6 1133.7,1265.9 1135.7,1271.0 1137.7,1275.9 1139.7,1280.7 1141.7,1285.5 1143.7,1290.2 1145.7,1295.0 1147.7,1299.8 1149.7,1304.7 1151.7,1309.8 1153.7,1314.8 1155.7,1319.8 1157.7,1324.8 1159.7,1329.8 1161.7,1334.8 1163.7,1339.8 1165.7,1344.8 1167.7,1349.8 1169.7,1354.8 1171.7,1359.9 1173.7,1364.9 1175.7,1370.0 1177.7,1375.1 1179.7,1380.1 1181.7,1385.2 1183.7,1390.3 1185.7,1395.3 1187.7,1400.2 1189.7,1405.1 1191.7,1409.9 1193.7,1414.6 1195.7,1419.3 1197.7,1424.0 1199.7,1428.6 1201.7,1433.2 1203.7,1437.8 1205.7,1442.2 1207.7,1446.6 1209.7,1450.9 1211.7,1455.1 1213.7,1459.2 1215.7,1463.2 1217.7,1467.2 1219.7,1471.0 1221.7,1474.8 1223.7,1478.5 1225.7,1482.2 1227.7,1485.8 1229.7,1489.4 1231.7,1493.0 1233.7,1496.5 1235.7,1500.0 1237.7,1503.4 1239.7,1506.8 1241.7,1510.1 1243.7,1513.4 1245.7,1516.7 1247.7,1520.0 1249.7,1523.2 1251.7,1526.5 1253.7,1529.8 1255.7,1533.1 1257.7,1536.4 1259.7,1539.9 1261.7,1543.4 1263.7,1547.0 1265.7,1550.6 1267.7,1554.2 1269.7,1557.8 1271.7,1561.3 1273.7,1564.7 1275.7,1568.0 1277.7,1571.2 1279.7,1574.1 1281.7,1576.8 1283.7,1579.3 1285.7,1581.7 1287.7,1584.0 1289.7,1586.3 1291.7,1588.5 1293.7,1590.9 1295.7,1593.3 1297.7,1595.8 1299.7,1598.4 1301.7,1601.1 1303.7,1603.8 1305.7,1606.5 1307.7,1609.1 1309.7,1611.7 1311.7,1614.1 1313.7,1616.5 1315.7,1618.9 1317.7,1621.3 1319.7,1623.6 1321.7,1625.8 1323.7,1627.9 1325.7,1629.9 1327.7,1631.6 1329.7,1633.3 1331.7,1634.8 1333.7,1636.2 1335.7,1637.6 1337.7,1638.9 1339.7,1640.2 1341.7,1641.5 1343.7,1642.7 1345.7,1644.0 1347.7,1645.3 1349.7,1646.5 1351.7,1647.7 1353.7,1648.8 1355.7,1650.0 1357.7,1651.1 1359.7,1652.2 1361.7,1653.3 1363.7,1654.3 1365.7,1655.4 1367.7,1656.4 1369.7,1657.4 1371.7,1658.3 1373.7,1659.2 1375.7,1660.1 1377.7,1661.0 1379.7,1661.8 1381.7,1662.7 1383.7,1663.5 1385.7,1664.2 1387.7,1665.0 1389.7,1665.7 1391.7,1666.4 1393.7,1667.0 1395.7,1667.6 1397.7,1668.2 1399.7,1668.8 1401.7,1669.3 1403.7,1669.9 1405.7,1670.5 1407.7,1671.1 1409.7,1671.8 1411.7,1672.4 1413.7,1673.1 1415.7,1673.7 1417.7,1674.3 1419.7,1674.9 1421.7,1675.4 1423.7,1675.8 1425.7,1676.3 1427.7,1676.7 1429.7,1677.0 1431.7,1677.4 1433.7,1677.8 1435.7,1678.1 1437.7,1678.5 1439.7,1679.0 1441.7,1679.4 1443.7,1679.9 1445.7,1680.4 1447.7,1680.8 1449.7,1681.2 1451.7,1681.5 1453.7,1681.7 1455.7,1681.9 1457.7,1682.0 1459.7,1682.2 1461.7,1682.3 1463.7,1682.4 1465.7,1682.5 1467.7,1682.6 1469.7,1682.7 1471.7,1682.7 1473.7,1682.8 1475.7,1682.9 1477.7,1683.0 1479.7,1683.0 1481.7,1683.1 1483.7,1683.2 1485.7,1683.2 1487.7,1683.3 1489.7,1683.4 1491.7,1683.4 1493.7,1683.5 1495.7,1683.5 1497.7,1683.6 1499.7,1683.6 1501.7,1683.7 1503.7,1683.7 1505.7,1683.8 1507.7,1683.8 1509.7,1683.8 1511.7,1683.9 1513.7,1683.9 1515.7,1684.0 1517.7,1684.0 1519.7,1684.1 1521.7,1684.1 1523.7,1684.1 1525.7,1684.2 1527.7,1684.2 1529.7,1684.3 1531.7,1684.3 1533.7,1684.4 1535.7,1684.4 1537.7,1684.5 1539.7,1684.5 1541.7,1684.6 1543.7,1684.7 1545.7,1684.7 1547.7,1684.8 1549.7,1684.9 1551.7,1685.0 1553.7,1685.1 1555.7,1685.2 1557.7,1685.3 1559.7,1685.4 1561.7,1685.5 1563.7,1685.6 1565.7,1685.7 1567.7,1685.9 1569.7,1686.0 1571.7,1686.1 1573.7,1686.3 1575.7,1686.4 1577.7,1686.6 1579.7,1686.7 1581.7,1686.8 1583.7,1687.0 1585.7,1687.1 1587.7,1687.3 1589.7,1687.4 1591.7,1687.5 1593.7,1687.6 1595.7,1687.8 1597.7,1687.9 1599.7,1688.0 1601.7,1688.1 1603.7,1688.2 1605.7,1688.3 1607.7,1688.4 1609.7,1688.5 1611.7,1688.5 1613.7,1688.6 1615.7,1688.7 1617.7,1688.8 1619.7,1688.9 1621.7,1689.0 1623.7,1689.0 1625.7,1689.1 1627.7,1689.2 1629.7,1689.3 1631.7,1689.3 1633.7,1689.4 1635.7,1689.5 1637.7,1689.6 1639.7,1689.6 1641.7,1689.7 1643.7,1689.8 1645.7,1689.9 1647.7,1689.9 1649.7,1690.0 1651.7,1690.1 1653.7,1690.1 1655.7,1690.2 1657.7,1690.3 1659.7,1690.3 1661.7,1690.4 1663.7,1690.5 1665.7,1690.5 1667.7,1690.6 1669.7,1690.6 1671.7,1690.7 1673.7,1690.8 1675.7,1690.8 1677.7,1690.9 1679.7,1690.9 1681.7,1691.0 1683.7,1691.1 1685.7,1691.1 1687.7,1691.2 1689.7,1691.2 1691.7,1691.3 1693.7,1691.3 1695.7,1691.4 1697.7,1691.4 1699.7,1691.5 1701.7,1691.5 1703.7,1691.6 1705.7,1691.6 1707.7,1691.7 1709.7,1691.8 1711.7,1691.8 1713.7,1691.9 1715.7,1691.9 1717.7,1692.0 1719.7,1692.0 1721.7,1692.1 1723.7,1692.1 1725.7,1692.2 1727.7,1692.2 1729.7,1692.3 1731.7,1692.3 1733.7,1692.4 1735.7,1692.4 1737.7,1692.5 1739.7,1692.5 1741.7,1692.5 1743.7,1692.6 1745.7,1692.6 1747.7,1692.7 1749.7,1692.7 1751.7,1692.8 1753.7,1692.8 1755.7,1692.9 1757.7,1692.9 1759.7,1693.0 1761.7,1693.0 1763.7,1693.0 1765.7,1693.1 1767.7,1693.1 1769.7,1693.2 1771.7,1693.2 1773.7,1693.2 1775.7,1693.3 1777.7,1693.3 1779.7,1693.4 1781.7,1693.4 1783.7,1693.4 1785.7,1693.5 1787.7,1693.5 1789.7,1693.5 1791.7,1693.6 1793.7,1693.6 1795.7,1693.7 1797.7,1693.7 1799.7,1693.7 1801.7,1693.7 1803.7,1693.8 1805.7,1693.8 1807.7,1693.8 1809.7,1693.9 1811.7,1693.9 1813.7,1693.9 1815.7,1693.9 1817.7,1694.0 1819.7,1694.0 1821.7,1694.0 1823.7,1694.0 1825.7,1694.1 1827.7,1694.1 1829.7,1694.1 1831.7,1694.1 1833.7,1694.2 1835.7,1694.2 1837.7,1694.2 1839.7,1694.2 1841.7,1694.2 1843.7,1694.3 1845.7,1694.3 1847.7,1694.3 1849.7,1694.3 1851.7,1694.3 1853.7,1694.4 1855.7,1694.4 1857.7,1694.4 1859.7,1694.4 1861.7,1694.4 1863.7,1694.4 1865.7,1694.4 1867.7,1694.5 1869.7,1694.5 1871.7,1694.5 1873.7,1694.5 1875.0,1694.5" stroke="#cc00ff" stroke-width="6"/>
<polygon points="227.7,1698.3 227.7,1698.3 230.7,1698.3 233.7,1698.3 236.7,1698.3 239.7,1698.3 242.7,1698.3 245.7,1698.3 248.7,1698.3 251.7,1698.3 254.7,1698.3 257.7,1698.3 260.7,1698.3 263.7,1698.3 266.7,1698.3 269.7,1698.3 272.7,1698.3 275.7,1698.3 278.7,1698.3 281.7,1698.3 284.7,1698.3 287.7,1698.3 290.7,1698.3 293.7,1698.3 296.7,1698.3 299.7,1698.3 302.7,1698.3 305.7,1698.3 308.7,1698.3 311.7,1698.3 314.7,1698.3 317.7,1698.3 320.7,1698.3 323.7,1698.3 326.7,1698.3 329.7,1698.3 332.7,1698.3 335.7,1698.3 338.7,1698.3 341.7,1698.3 344.7,1698.3 347.7,1698.3 350.7,1698.3 353.7,1698.3 356.7,1698.3 359.7,1698.3 362.7,1698.3 365.7,1698.3 368.7,1698.3 371.7,1698.3 374.7,1698.3 377.7,1698.3 380.7,1698.3 383.7,1698.3 386.7,1698.3 389.7,1698.3 392.7,1698.3 395.7,1698.3 398.7,1698.3 401.7,1698.3 404.7,1698.3 407.7,1698.3 410.7,1698.3 413.7,1698.3 416.7,1698.3 419.7,1698.3 422.7,1698.3 425.7,1698.3 428.7,1698.3 431.7,1698.3 434.7,1698.3 437.7,1698.3 440.7,1698.3 443.7,1698.3 446.7,1698.3 449.7,1698.3 452.7,1698.3 455.7,1698.3 458.7,1698.3 461.7,1698.3 464.7,1698.3 467.7,1698.3 470.7,1698.3 473.7,1698.3 476.7,1698.3 479.7,1698.3 482.7,1698.3 485.7,1698.3 488.7,1698.3 491.7,1698.3 494.7,1698.3 497.7,1698.3 500.7,1698.3 503.7,1698.3 506.7,1698.3 509.7,1698.3 512.7,1698.3 515.7,1698.3 518.7,1698.3 521.7,1698.3 524.7,1698.3 527.7,1698.3 530.7,1698.3 533.7,1698.3 536.7,1698.3 539.7,1698.3 542.7,1698.3 545.7,1698.3 548.7,1698.3 551.7,1698.3 554.7,1698.3 557.7,1698.3 560.7,1698.3 563.7,1698.3 566.7,1698.3 569.7,1698.3 572.7,1698.3 575.7,1698.3 578.7,1698.3 581.7,1698.3 584.7,1698.3 587.7,1698.3 590.7,1698.3 593.7,1698.3 596.7,1698.3 599.7,1698.3 602.7,1698.3 605.7,1698.3 608.7,1698.3 611.7,1698.3 614.7,1698.3 617.7,1698.3 620.7,1698.3 623.7,1698.3 626.7,1698.3 629.7,1698.3 632.7,1698.3 635.7,1698.3 638.7,1698.3 641.7,1698.3 644.7,1698.3 647.7,1698.3 650.7,1698.3 653.7,1698.3 656.7,1698.3 659.7,1698.3 662.7,1698.3 665.7,1698.3 668.7,1698.3 671.7,1698.3 674.7,1698.3 677.7,1698.3 680.7,1698.3 683.7,1698.3 686.7,1698.3 689.7,1698.3 692.7,1698.3 695.7,1698.3 698.7,1698.3 701.7,1698.3 704.7,1698.3 707.7,1698.3 710.7,1698.3 713.7,1698.3 716.7,1698.3 719.7,1698.3 722.7,1698.3 725.7,1698.3 728.7,1698.3 731.7,1698.3 734.7,1698.3 737.7,1698.3 740.7,1698.3 743.7,1698.3 746.7,1698.3 749.7,1698.3 752.7,1698.3 755.7,1698.3 758.7,1698.3 761.7,1698.3 764.7,1698.3 767.7,1698.3 770.7,1698.3 773.7,1698.3 776.7,1698.3 779.7,1698.3 782.7,1698.3 785.7,1698.3 788.7,1698.3 791.7,1698.3 794.7,1698.3 797.7,1698.3 800.7,1698.3 803.7,1698.3 806.7,1698.3 809.7,1698.3 812.7,1698.3 815.7,1698.3 818.7,1698.3 821.7,1698.3 824.7,1698.3 827.7,1698.3 830.7,1698.3 833.7,1698.3 836.7,1698.3 839.7,1698.3 842.7,1698.3 845.7,1698.3 848.7,1698.3 851.7,1698.3 854.7,1698.3 857.7,1698.3 860.7,1698.3 863.7,1698.3 866.7,1698.3 869.7,1698.3 872.7,1698.3 875.7,1698.3 878.7,1698.3 881.7,1698.3 884.7,1698.3 887.7,1698.3 890.7,1698.3 893.7,1698.3 896.7,1698.3 899.7,1698.3 902.7,1698.3 905.7,1698.3 908.7,1698.3 911.7,1698.3 914.7,1698.3 917.7,1698.3 920.7,1698.3 923.7,1698.3 926.7,1698.3 929.7,1698.3 932.7,1698.3 935.7,1698.3 938.7,1698.3 941.7,1698.3 944.7,1698.3 947.7,1698.3 950.7,1698.3 953.7,1698.3 956.7,1698.3 959.7,1698.3 962.7,1698.3 965.7,1698.3 968.7,1698.3 971.7,1698.3 974.7,1698.3 977.7,1698.3 980.7,1698.3 983.7,1698.3 986.7,1698.3 989.7,1698.3 992.7,1698.3 995.7,1698.3 998.7,1698.2 1001.7,1698.2 1004.7,1698.2 1007.7,1698.2 1010.7,1698.2 1013.7,1698.2 1016.7,1698.2 1019.7,1698.2 1022.7,1698.2 1025.7,1698.1 1028.7,1698.1 1031.7,1698.1 1034.7,1698.1 1037.7,1698.1 1040.7,1698.0 1043.7,1698.0 1046.7,1698.0 1049.7,1698.0 1052.7,1697.9 1055.7,1697.9 1058.7,1697.8 1061.7,1697.8 1064.7,1697.7 1067.7,1697.7 1070.7,1697.6 1073.7,1697.6 1076.7,1697.5 1079.7,1697.4 1082.7,1697.3 1085.7,1697.3 1088.7,1697.2 1091.7,1697.1 1094.7,1697.0 1097.7,1696.9 1100.7,1696.7 1103.7,1696.6 1106.7,1696.5 1109.7,1696.3 1112.7,1696.2 1115.7,1696.0 1118.7,1695.8 1121.7,1695.6 1124.7,1695.5 1127.7,1695.2 1130.7,1695.0 1133.7,1694.8 1136.7,1694.6 1139.7,1694.3 1142.7,1694.1 1145.7,1693.8 1148.7,1693.5 1151.7,1693.2 1154.7,1692.9 1157.7,1692.5 1160.7,1692.2 1163.7,1691.9 1166.7,1691.5 1169.7,1691.1 1172.7,1690.7 1175.7,1690.3 1178.7,1689.9 1181.7,1689.5 1184.7,1689.0 1187.7,1688.6 1190.7,1688.1 1193.7,1687.7 1196.7,1687.2 1199.7,1686.7 1202.7,1686.2 1205.7,1685.7 1208.7,1685.2 1211.7,1684.7 1214.7,1684.2 1217.7,1683.6 1220.7,1683.1 1223.7,1682.6 1226.7,1682.1 1229.7,1681.5 1232.7,1681.0 1235.7,1680.5 1238.7,1680.0 1241.7,1679.5 1244.7,1679.0 1247.7,1678.5 1250.7,1678.0 1253.7,1677.5 1256.7,1677.1 1259.7,1676.6 1262.7,1676.2 1265.7,1675.8 1268.7,1675.4 1271.7,1675.0 1274.7,1674.7 1277.7,1674.3 1280.7,1674.0 1283.7,1673.7 1286.7,1673.5 1289.7,1673.2 1292.7,1673.0 1295.7,1672.8 1298.7,1672.7 1301.7,1672.5 1304.7,1672.4 1307.7,1672.4 1310.7,1672.3 1313.7,1672.3 1316.7,1672.3 1319.7,1672.4 1322.7,1672.4 1325.7,1672.5 1328.7,1672.6 1331.7,1672.8 1334.7,1673.0 1337.7,1673.2 1340.7,1673.4 1343.7,1673.7 1346.7,1674.0 1349.7,1674.3 1352.7,1674.6 1355.7,1674.9 1358.7,1675.3 1361.7,1675.7 1364.7,1676.1 1367.7,1676.5 1370.7,1677.0 1373.7,1677.4 1376.7,1677.9 1379.7,1678.4 1382.7,1678.9 1385.7,1679.4 1388.7,1679.9 1391.7,1680.4 1394.7,1680.9 1397.7,1681.4 1400.7,1682.0 1403.7,1682.5 1406.7,1683.0 1409.7,1683.5 1412.7,1684.0 1415.7,1684.6 1418.7,1685.1 1421.7,1685.6 1424.7,1686.1 1427.7,1686.6 1430.7,1687.1 1433.7,1687.6 1436.7,1688.0 1439.7,1688.5 1442.7,1688.9 1445.7,1689.4 1448.7,1689.8 1451.7,1690.2 1454.7,1690.6 1457.7,1691.0 1460.7,1691.4 1463.7,1691.8 1466.7,1692.1 1469.7,1692.5 1472.7,1692.8 1475.7,1693.1 1478.7,1693.4 1481.7,1693.7 1484.7,1694.0 1487.7,1694.3 1490.7,1694.5 1493.7,1694.8 1496.7,1695.0 1499.7,1695.2 1502.7,1695.4 1505.7,1695.6 1508.7,1695.8 1511.7,1696.0 1514.7,1696.1 1517.7,1696.3 1520.7,1696.4 1523.7,1696.6 1526.7,1696.7 1529.7,1696.8 1532.7,1696.9 1535.7,1697.0 1538.7,1697.1 1541.7,1697.2 1544.7,1697.3 1547.7,1697.4 1550.7,1697.5 1553.7,1697.6 1556.7,1697.6 1559.7,1697.7 1562.7,1697.7 1565.7,1697.8 1568.7,1697.8 1571.7,1697.9 1574.7,1697.9 1577.7,1697.9 1580.7,1698.0 1583.7,1698.0 1586.7,1698.0 1589.7,1698.1 1592.7,1698.1 1595.7,1698.1 1598.7,1698.1 1601.7,1698.1 1604.7,1698.2 1607.7,1698.2 1610.7,1698.2 1613.7,1698.2 1616.7,1698.2 1619.7,1698.2 1622.7,1698.2 1625.7,1698.2 1628.7,1698.2 1631.7,1698.2 1634.7,1698.3 1637.7,1698.3 1640.7,1698.3 1643.7,1698.3 1646.7,1698.3 1649.7,1698.3 1652.7,1698.3 1655.7,1698.3 1658.7,1698.3 1661.7,1698.3 1664.7,1698.3 1667.7,1698.3 1670.7,1698.3 1673.7,1698.3 1676.7,1698.3 1679.7,1698.3 1682.7,1698.3 1685.7,1698.3 1688.7,1698.3 1691.7,1698.3 1694.7,1698.3 1697.7,1698.3 1700.7,1698.3 1703.7,1698.3 1706.7,1698.3 1709.7,1698.3 1712.7,1698.3 1715.7,1698.3 1718.7,1698.3 1721.7,1698.3 1724.7,1698.3 1727.7,1698.3 1730.7,1698.3 1733.7,1698.3 1736.7,1698.3 1739.7,1698.3 1742.7,1698.3 1745.7,1698.3 1748.7,1698.3 1751.7,1698.3 1754.7,1698.3 1757.7,1698.3 1760.7,1698.3 1763.7,1698.3 1766.7,1698.3 1769.7,1698.3 1772.7,1698.3 1775.7,1698.3 1778.7,1698.3 1781.7,1698.3 1784.7,1698.3 1787.7,1698.3 1790.7,1698.3 1793.7,1698.3 1796.7,1698.3 1799.7,1698.3 1802.7,1698.3 1805.7,1698.3 1808.7,1698.3 1811.7,1698.3 1814.7,1698.3 1817.7,1698.3 1820.7,1698.3 1823.7,1698.3 1826.7,1698.3 1829.7,1698.3 1832.7,1698.3 1835.7,1698.3 1838.7,1698.3 1841.7,1698.3 1844.7,1698.3 1847.7,1698.3 1850.7,1698.3 1853.7,1698.3 1856.7,1698.3 1859.7,1698.3 1862.7,1698.3 1865.7,1698.3 1868.7,1698.3 1871.7,1698.3 1874.7,1698.3 1875.0,1698.3 1875.0,1698.3" fill="#9b80ff" stroke="none"/>
<polyline points="227.7,1698.3 230.7,1698.3 233.7,1698.3 236.7,1698.3 239.7,1698.3 242.7,1698.3 245.7,1698.3 248.7,1698.3 251.7,1698.3 254.7,1698.3 257.7,1698.3 260.7,1698.3 263.7,1698.3 266.7,1698.3 269.7,1698.3 272.7,1698.3 275.7,1698.3 278.7,1698.3 281.7,1698.3 284.7,1698.3 287.7,1698.3 290.7,1698.3 293.7,1698.3 296.7,1698.3 299.7,1698.3 302.7,1698.3 305.7,1698.3 308.7,1698.3 311.7,1698.3 314.7,1698.3 317.7,1698.3 320.7,1698.3 323.7,1698.3 326.7,1698.3 329.7,1698.3 332.7,1698.3 335.7,1698.3 338.7,1698.3 341.7,1698.3 344.7,1698.3 347.7,1698.3 350.7,1698.3 353.7,1698.3 356.7,1698.3 359.7,1698.3 362.7,1698.3 365.7,1698.3 368.7,1698.3 371.7,1698.3 374.7,1698.3 377.7,1698.3 380.7,1698.3 383.7,1698.3 386.7,1698.3 389.7,1698.3 392.7,1698.3 395.7,1698.3 398.7,1698.3 401.7,1698.3 404.7,1698.3 407.7,1698.3 410.7,1698.3 413.7,1698.3 416.7,1698.3 419.7,1698.3 422.7,1698.3 425.7,1698.3 428.7,1698.3 431.7,1698.3 434.7,1698.3 437.7,1698.3 440.7,1698.3 443.7,1698.3 446.7,1698.3 449.7,1698.3 452.7,1698.3 455.7,1698.3 458.7,1698.3 461.7,1698.3 464.7,1698.3 467.7,1698.3 470.7,1698.3 473.7,1698.3 476.7,1698.3 479.7,1698.3 482.7,1698.3 485.7,1698.3 488.7,1698.3 491.7,1698.3 494.7,1698.3 497.7,1698.3 500.7,1698.3 503.7,1698.3 506.7,1698.3 509.7,1698.3 512.7,1698.3 515.7,1698.3 518.7,1698.3 521.7,1698.3 524.7,1698.3 527.7,1698.3 530.7,1698.3 533.7,1698.3 536.7,1698.3 539.7,1698.3 542.7,1698.3 545.7,1698.3 548.7,1698.3 551.7,1698.3 554.7,1698.3 557.7,1698.3 560.7,1698.3 563.7,1698.3 566.7,1698.3 569.7,1698.3 572.7,1698.3 575.7,1698.3 578.7,1698.3 581.7,1698.3 584.7,1698.3 587.7,1698.3 590.7,1698.3 593.7,1698.3 596.7,1698.3 599.7,1698.3 602.7,1698.3 605.7,1698.3 608.7,1698.3 611.7,1698.3 614.7,1698.3 617.7,1698.3 620.7,1698.3 623.7,1698.3 626.7,1698.3 629.7,1698.3 632.7,1698.3 635.7,1698.3 638.7,1698.3 641.7,1698.3 644.7,1698.3 647.7,1698.3 650.7,1698.3 653.7,1698.3 656.7,1698.3 659.7,1698.3 662.7,1698.3 665.7,1698.3 668.7,1698.3 671.7,1698.3 674.7,1698.3 677.7,1698.3 680.7,1698.3 683.7,1698.3 686.7,1698.3 689.7,1698.3 692.7,1698.3 695.7,1698.3 698.7,1698.3 701.7,1698.3 704.7,1698.3 707.7,1698.3 710.7,1698.3 713.7,1698.3 716.7,1698.3 719.7,1698.3 722.7,1698.3 725.7,1698.3 728.7,1698.3 731.7,1698.3 734.7,1698.3 737.7,1698.3 740.7,1698.3 743.7,1698.3 746.7,1698.3 749.7,1698.3 752.7,1698.3 755.7,1698.3 758.7,1698.3 761.7,1698.3 764.7,1698.3 767.7,1698.3 770.7,1698.3 773.7,1698.3 776.7,1698.3 779.7,1698.3 782.7,1698.3 785.7,1698.3 788.7,1698.3 791.7,1698.3 794.7,1698.3 797.7,1698.3 800.7,1698.3 803.7,1698.3 806.7,1698.3 809.7,1698.3 812.7,1698.3 815.7,1698.3 818.7,1698.3 821.7,1698.3 824.7,1698.3 827.7,1698.3 830.7,1698.3 833.7,1698.3 836.7,1698.3 839.7,1698.3 842.7,1698.3 845.7,1698.3 848.7,1698.3 851.7,1698.3 854.7,1698.3 857.7,1698.3 860.7,1698.3 863.7,1698.3 866.7,1698.3 869.7,1698.3 872.7,1698.3 875.7,1698.3 878.7,1698.3 881.7,1698.3 884.7,1698.3 887.7,1698.3 890.7,1698.3 893.7,1698.3 896.7,1698.3 899.7,1698.3 902.7,1698.3 905.7,1698.3 908.7,1698.3 911.7,1698.3 914.7,1698.3 917.7,1698.3 920.7,1698.3 923.7,1698.3 926.7,1698.3 929.7,1698.3 932.7,1698.3 935.7,1698.3 938.7,1698.3 941.7,1698.3 944.7,1698.3 947.7,1698.3 950.7,1698.3 953.7,1698.3 956.7,1698.3 959.7,1698.3 962.7,1698.3 965.7,1698.3 968.7,1698.3 971.7,1698.3 974.7,1698.3 977.7,1698.3 980.7,1698.3 983.7,1698.3 986.7,1698.3 989.7,1698.3 992.7,1698.3 995.7,1698.3 998.7,1698.2 1001.7,1698.2 1004.7,1698.2 1007.7,1698.2 1010.7,1698.2 1013.7,1698.2 1016.7,1698.2 1019.7,1698.2 1022.7,1698.2 1025.7,1698.1 1028.7,1698.1 1031.7,1698.1 1034.7,1698.1 1037.7,1698.1 1040.7,1698.0 1043.7,1698.0 1046.7,1698.0 1049.7,1698.0 1052.7,1697.9 1055.7,1697.9 1058.7,1697.8 1061.7,1697.8 1064.7,1697.7 1067.7,1697.7 1070.7,1697.6 1073.7,1697.6 1076.7,1697.5 1079.7,1697.4 1082.7,1697.3 1085.7,1697.3 1088.7,1697.2 1091.7,1697.1 1094.7,1697.0 1097.7,1696.9 1100.7,1696.7 1103.7,1696.6 1106.7,1696.5 1109.7,1696.3 1112.7,1696.2 1115.7,1696.0 1118.7,1695.8 1121.7,1695.6 1124.7,1695.5 1127.7,1695.2 1130.7,1695.0 1133.7,1694.8 1136.7,1694.6 1139.7,1694.3 1142.7,1694.1 1145.7,1693.8 1148.7,1693.5 1151.7,1693.2 1154.7,1692.9 1157.7,1692.5 1160.7,1692.2 1163.7,1691.9 1166.7,1691.5 1169.7,1691.1 1172.7,1690.7 1175.7,1690.3 1178.7,1689.9 1181.7,1689.5 1184.7,1689.0 1187.7,1688.6 1190.7,1688.1 1193.7,1687.7 1196.7,1687.2 1199.7,1686.7 1202.7,1686.2 1205.7,1685.7 1208.7,1685.2 1211.7,1684.7 1214.7,1684.2 1217.7,1683.6 1220.7,1683.1 1223.7,1682.6 1226.7,1682.1 1229.7,1681.5 1232.7,1681.0 1235.7,1680.5 1238.7,1680.0 1241.7,1679.5 1244.7,1679.0 1247.7,1678.5 1250.7,1678.0 1253.7,1677.5 1256.7,1677.1 1259.7,1676.6 1262.7,1676.2 1265.7,1675.8 1268.7,1675.4 1271.7,1675.0 1274.7,1674.7 1277.7,1674.3 1280.7,1674.0 1283.7,1673.7 1286.7,1673.5 1289.7,1673.2 1292.7,1673.0 1295.7,1672.8 1298.7,1672.7 1301.7,1672.5 1304.7,1672.4 1307.7,1672.4 1310.7,1672.3 1313.7,1672.3 1316.7,1672.3 1319.7,1672.4 1322.7,1672.4 1325.7,1672.5 1328.7,1672.6 1331.7,1672.8 1334.7,1673.0 1337.7,1673.2 1340.7,1673.4 1343.7,1673.7 1346.7,1674.0 1349.7,1674.3 1352.7,1674.6 1355.7,1674.9 1358.7,1675.3 1361.7,1675.7 1364.7,1676.1 1367.7,1676.5 1370.7,1677.0 1373.7,1677.4 1376.7,1677.9 1379.7,1678.4 1382.7,1678.9 1385.7,1679.4 1388.7,1679.9 1391.7,1680.4 1394.7,1680.9 1397.7,1681.4 1400.7,1682.0 1403.7,1682.5 1406.7,1683.0 1409.7,1683.5 1412.7,1684.0 1415.7,1684.6 1418.7,1685.1 1421.7,1685.6 1424.7,1686.1 1427.7,1686.6 1430.7,1687.1 1433.7,1687.6 1436.7,1688.0 1439.7,1688.5 1442.7,1688.9 1445.7,1689.4 1448.7,1689.8 1451.7,1690.2 1454.7,1690.6 1457.7,1691.0 1460.7,1691.4 1463.7,1691.8 1466.7,1692.1 1469.7,1692.5 1472.7,1692.8 1475.7,1693.1 1478.7,1693.4 1481.7,1693.7 1484.7,1694.0 1487.7,1694.3 1490.7,1694.5 1493.7,1694.8 1496.7,1695.0 1499.7,1695.2 1502.7,1695.4 1505.7,1695.6 1508.7,1695.8 1511.7,1696.0 1514.7,1696.1 1517.7,1696.3 1520.7,1696.4 1523.7,1696.6 1526.7,1696.7 1529.7,1696.8 1532.7,1696.9 1535.7,1697.0 1538.7,1697.1 1541.7,1697.2 1544.7,1697.3 1547.7,1697.4 1550.7,1697.5 1553.7,1697.6 1556.7,1697.6 1559.7,1697.7 1562.7,1697.7 1565.7,1697.8 1568.7,1697.8 1571.7,1697.9 1574.7,1697.9 1577.7,1697.9 1580.7,1698.0 1583.7,1698.0 1586.7,1698.0 1589.7,1698.1 1592.7,1698.1 1595.7,1698.1 1598.7,1698.1 1601.7,1698.1 1604.7,1698.2 1607.7,1698.2 1610.7,1698.2 1613.7,1698.2 1616.7,1698.2 1619.7,1698.2 1622.7,1698.2 1625.7,1698.2 1628.7,1698.2 1631.7,1698.2 1634.7,1698.3 1637.7,1698.3 1640.7,1698.3 1643.7,1698.3 1646.7,1698.3 1649.7,1698.3 1652.7,1698.3 1655.7,1698.3 1658.7,1698.3 1661.7,1698.3 1664.7,1698.3 1667.7,1698.3 1670.7,1698.3 1673.7,1698.3 1676.7,1698.3 1679.7,1698.3 1682.7,1698.3 1685.7,1698.3 1688.7,1698.3 1691.7,1698.3 1694.7,1698.3 1697.7,1698.3 1700.7,1698.3 1703.7,1698.3 1706.7,1698.3 1709.7,1698.3 1712.7,1698.3 1715.7,1698.3 1718.7,1698.3 1721.7,1698.3 1724.7,1698.3 1727.7,1698.3 1730.7,1698.3 1733.7,1698.3 1736.7,1698.3 1739.7,1698.3 1742.7,1698.3 1745.7,1698.3 1748.7,1698.3 1751.7,1698.3 1754.7,1698.3 1757.7,1698.3 1760.7,1698.3 1763.7,1698.3 1766.7,1698.3 1769.7,1698.3 1772.7,1698.3 1775.7,1698.3 1778.7,1698.3 1781.7,1698.3 1784.7,1698.3 1787.7,1698.3 1790.7,1698.3 1793.7,1698.3 1796.7,1698.3 1799.7,1698.3 1802.7,1698.3 1805.7,1698.3 1808.7,1698.3 1811.7,1698.3 1814.7,1698.3 1817.7,1698.3 1820.7,1698.3 1823.7,1698.3 1826.7,1698.3 1829.7,1698.3 1832.7,1698.3 1835.7,1698.3 1838.7,1698.3 1841.7,1698.3 1844.7,1698.3 1847.7,1698.3 1850.7,1698.3 1853.7,1698.3 1856.7,1698.3 1859.7,1698.3 1862.7,1698.3 1865.7,1698.3 1868.7,1698.3 1871.7,1698.3 1874.7,1698.3 1875.0,1698.3" stroke="#2200ff" stroke-width="6"/>
</g>
<g clip-path="url(#cc)" fill="none" stroke="#ff0000" stroke-width="5.5">
<circle cx="220.7" cy="1665.8" r="19.8"/>
<circle cx="244.1" cy="1655.4" r="19.8"/>
<circle cx="267.6" cy="1657.0" r="19.8"/>
<circle cx="291.1" cy="1636.3" r="19.8"/>
<circle cx="314.6" cy="1632.7" r="19.8"/>
<circle cx="338.1" cy="1599.6" r="19.8"/>
<circle cx="361.5" cy="1591.6" r="19.8"/>
<circle cx="385.0" cy="1556.1" r="19.8"/>
<circle cx="408.5" cy="1542.0" r="19.8"/>
<circle cx="432.0" cy="1500.2" r="19.8"/>
<circle cx="456.3" cy="1450.6" r="19.8"/>
<circle cx="478.7" cy="1409.9" r="19.8"/>
<circle cx="502.3" cy="1363.9" r="19.8"/>
<circle cx="525.9" cy="1295.6" r="19.8"/>
<circle cx="548.3" cy="1209.0" r="19.8"/>
<circle cx="571.9" cy="1117.1" r="19.8"/>
<circle cx="595.9" cy="1018.9" r="19.8"/>
<circle cx="619.5" cy="904.6" r="19.8"/>
<circle cx="641.8" cy="761.5" r="19.8"/>
<circle cx="664.1" cy="611.8" r="19.8"/>
<circle cx="688.2" cy="479.2" r="19.8"/>
<circle cx="717.6" cy="349.0" r="19.8"/>
<circle cx="739.7" cy="229.2" r="19.8"/>
<circle cx="761.8" cy="159.9" r="19.8"/>
<circle cx="788.0" cy="139.9" r="19.8"/>
<circle cx="811.1" cy="186.1" r="19.8"/>
<circle cx="834.2" cy="295.4" r="19.8"/>
<circle cx="858.0" cy="445.6" r="19.8"/>
<circle cx="881.0" cy="589.7" r="19.8"/>
<circle cx="902.9" cy="716.9" r="19.8"/>
<circle cx="926.3" cy="807.5" r="19.8"/>
<circle cx="950.0" cy="870.7" r="19.8"/>
<circle cx="972.5" cy="910.0" r="19.8"/>
<circle cx="997.0" cy="924.0" r="19.8"/>
<circle cx="1020.7" cy="949.7" r="19.8"/>
<circle cx="1044.3" cy="995.6" r="19.8"/>
<circle cx="1066.6" cy="1035.0" r="19.8"/>
<circle cx="1090.3" cy="1088.9" r="19.8"/>
<circle cx="1113.6" cy="1169.0" r="19.8"/>
<circle cx="1137.5" cy="1236.3" r="19.8"/>
<circle cx="1160.3" cy="1299.8" r="19.8"/>
<circle cx="1183.9" cy="1368.1" r="19.8"/>
<circle cx="1207.6" cy="1423.2" r="19.8"/>
<circle cx="1231.2" cy="1465.2" r="19.8"/>
<circle cx="1260.1" cy="1504.6" r="19.8"/>
<circle cx="1283.7" cy="1538.8" r="19.8"/>
<circle cx="1304.5" cy="1559.3" r="19.8"/>
<circle cx="1327.9" cy="1594.9" r="19.8"/>
<circle cx="1351.3" cy="1606.8" r="19.8"/>
<circle cx="1374.7" cy="1625.4" r="19.8"/>
<circle cx="1398.1" cy="1636.0" r="19.8"/>
<circle cx="1421.8" cy="1648.3" r="19.8"/>
<circle cx="1445.7" cy="1657.2" r="19.8"/>
<circle cx="1469.5" cy="1667.1" r="19.8"/>
<circle cx="1493.4" cy="1675.7" r="19.8"/>
<circle cx="1517.3" cy="1686.5" r="19.8"/>
<circle cx="1541.2" cy="1682.5" r="19.8"/>
<circle cx="1565.0" cy="1692.9" r="19.8"/>
<circle cx="1588.9" cy="1688.9" r="19.8"/>
<circle cx="1612.8" cy="1693.9" r="19.8"/>
<circle cx="1636.6" cy="1690.1" r="19.8"/>
<circle cx="1660.0" cy="1696.2" r="19.8"/>
<circle cx="1683.1" cy="1691.4" r="19.8"/>
<circle cx="1706.2" cy="1695.5" r="19.8"/>
<circle cx="1729.3" cy="1690.7" r="19.8"/>
<circle cx="1752.5" cy="1696.8" r="19.8"/>
<circle cx="1775.6" cy="1691.9" r="19.8"/>
<circle cx="1798.7" cy="1696.0" r="19.8"/>
<circle cx="1821.8" cy="1691.0" r="19.8"/>
<circle cx="1844.9" cy="1696.1" r="19.8"/>
<circle cx="1868.1" cy="1695.1" r="19.8"/>
</g>
<g clip-path="url(#cm)" fill="none" stroke-linejoin="round">
<polyline points="227.7,1662.0 244.1,1657.4 267.6,1650.0 291.1,1641.3 314.6,1628.7 338.1,1614.6 361.5,1586.6 385.0,1562.1 408.5,1536.0 432.0,1503.2 455.5,1454.3 479.2,1405.2 503.0,1346.8 526.9,1284.7 550.7,1207.1 574.6,1118.6 598.4,1012.5 622.3,872.7 646.1,723.7 670.0,604.0 693.8,441.4 717.2,322.2 740.3,224.5 763.5,154.5 786.6,152.5 809.7,199.7 832.8,298.0 856.0,433.1 879.1,576.3 902.2,691.2 925.4,778.2 949.0,848.1 972.9,898.1 996.8,942.5 1020.7,972.4 1044.5,1006.3 1068.4,1052.9 1092.3,1103.6 1116.2,1173.0 1140.1,1237.2 1163.9,1300.8 1187.5,1356.1 1210.9,1414.3 1234.3,1466.0 1257.7,1495.6 1281.1,1530.5 1304.5,1562.3 1327.9,1590.9 1351.3,1612.8 1374.7,1631.4 1398.1,1644.0 1421.8,1653.3 1445.7,1664.2 1469.5,1669.1 1493.4,1670.7 1517.3,1675.5 1541.2,1676.5 1565.0,1680.9 1588.9,1680.9 1612.8,1680.9 1636.6,1681.1 1660.0,1686.2 1683.1,1686.4 1706.2,1686.5 1729.3,1686.7 1752.5,1686.8 1775.6,1686.9 1798.7,1687.0 1821.8,1687.0 1844.9,1687.1 1868.1,1687.1 1875.0,1687.1" stroke="#000" stroke-width="9.5"/>
</g>
<g stroke="#000" stroke-width="6" fill="none" stroke-linecap="butt">
<line x1="227.7" y1="65" x2="227.7" y2="1728"/>
<line x1="1875.0" y1="65" x2="1875.0" y2="1728"/>
<line x1="224.7" y1="106.7" x2="1878.0" y2="106.7"/>
<line x1="224.7" y1="1733.2" x2="1878.0" y2="1733.2"/>
<line x1="274.7" y1="89.5" x2="274.7" y2="106.7"/>
<line x1="274.7" y1="1733.2" x2="274.7" y2="1751"/>
<line x1="321.6" y1="89.5" x2="321.6" y2="106.7"/>
<line x1="321.6" y1="1733.2" x2="321.6" y2="1751"/>
<line x1="368.6" y1="89.5" x2="368.6" y2="106.7"/>
<line x1="368.6" y1="1733.2" x2="368.6" y2="1751"/>
<line x1="415.5" y1="89.5" x2="415.5" y2="106.7"/>
<line x1="415.5" y1="1733.2" x2="415.5" y2="1751"/>
<line x1="510.2" y1="89.5" x2="510.2" y2="106.7"/>
<line x1="510.2" y1="1733.2" x2="510.2" y2="1751"/>
<line x1="557.9" y1="89.5" x2="557.9" y2="106.7"/>
<line x1="557.9" y1="1733.2" x2="557.9" y2="1751"/>
<line x1="605.6" y1="89.5" x2="605.6" y2="106.7"/>
<line x1="605.6" y1="1733.2" x2="605.6" y2="1751"/>
<line x1="653.3" y1="89.5" x2="653.3" y2="106.7"/>
<line x1="653.3" y1="1733.2" x2="653.3" y2="1751"/>
<line x1="747.3" y1="89.5" x2="747.3" y2="106.7"/>
<line x1="747.3" y1="1733.2" x2="747.3" y2="1751"/>
<line x1="793.5" y1="89.5" x2="793.5" y2="106.7"/>
<line x1="793.5" y1="1733.2" x2="793.5" y2="1751"/>
<line x1="839.8" y1="89.5" x2="839.8" y2="106.7"/>
<line x1="839.8" y1="1733.2" x2="839.8" y2="1751"/>
<line x1="886.0" y1="89.5" x2="886.0" y2="106.7"/>
<line x1="886.0" y1="1733.2" x2="886.0" y2="1751"/>
<line x1="980.1" y1="89.5" x2="980.1" y2="106.7"/>
<line x1="980.1" y1="1733.2" x2="980.1" y2="1751"/>
<line x1="1027.8" y1="89.5" x2="1027.8" y2="106.7"/>
<line x1="1027.8" y1="1733.2" x2="1027.8" y2="1751"/>
<line x1="1075.6" y1="89.5" x2="1075.6" y2="106.7"/>
<line x1="1075.6" y1="1733.2" x2="1075.6" y2="1751"/>
<line x1="1123.3" y1="89.5" x2="1123.3" y2="106.7"/>
<line x1="1123.3" y1="1733.2" x2="1123.3" y2="1751"/>
<line x1="1217.9" y1="89.5" x2="1217.9" y2="106.7"/>
<line x1="1217.9" y1="1733.2" x2="1217.9" y2="1751"/>
<line x1="1264.7" y1="89.5" x2="1264.7" y2="106.7"/>
<line x1="1264.7" y1="1733.2" x2="1264.7" y2="1751"/>
<line x1="1311.5" y1="89.5" x2="1311.5" y2="106.7"/>
<line x1="1311.5" y1="1733.2" x2="1311.5" y2="1751"/>
<line x1="1358.3" y1="89.5" x2="1358.3" y2="106.7"/>
<line x1="1358.3" y1="1733.2" x2="1358.3" y2="1751"/>
<line x1="1452.8" y1="89.5" x2="1452.8" y2="106.7"/>
<line x1="1452.8" y1="1733.2" x2="1452.8" y2="1751"/>
<line x1="1500.6" y1="89.5" x2="1500.6" y2="106.7"/>
<line x1="1500.6" y1="1733.2" x2="1500.6" y2="1751"/>
<line x1="1548.3" y1="89.5" x2="1548.3" y2="106.7"/>
<line x1="1548.3" y1="1733.2" x2="1548.3" y2="1751"/>
<line x1="1596.1" y1="89.5" x2="1596.1" y2="106.7"/>
<line x1="1596.1" y1="1733.2" x2="1596.1" y2="1751"/>
<line x1="1690.0" y1="89.5" x2="1690.0" y2="106.7"/>
<line x1="1690.0" y1="1733.2" x2="1690.0" y2="1751"/>
<line x1="1736.3" y1="89.5" x2="1736.3" y2="106.7"/>
<line x1="1736.3" y1="1733.2" x2="1736.3" y2="1751"/>
<line x1="1782.5" y1="89.5" x2="1782.5" y2="106.7"/>
<line x1="1782.5" y1="1733.2" x2="1782.5" y2="1751"/>
<line x1="1828.8" y1="89.5" x2="1828.8" y2="106.7"/>
<line x1="1828.8" y1="1733.2" x2="1828.8" y2="1751"/>
<line x1="227.7" y1="1733.2" x2="227.7" y2="1775"/>
<line x1="462.5" y1="1733.2" x2="462.5" y2="1775"/>
<line x1="462.5" y1="65" x2="462.5" y2="106.7"/>
<line x1="701.0" y1="1733.2" x2="701.0" y2="1775"/>
<line x1="701.0" y1="65" x2="701.0" y2="106.7"/>
<line x1="932.3" y1="1733.2" x2="932.3" y2="1775"/>
<line x1="932.3" y1="65" x2="932.3" y2="106.7"/>
<line x1="1171.1" y1="1733.2" x2="1171.1" y2="1775"/>
<line x1="1171.1" y1="65" x2="1171.1" y2="106.7"/>
<line x1="1405.1" y1="1733.2" x2="1405.1" y2="1775"/>
<line x1="1405.1" y1="65" x2="1405.1" y2="106.7"/>
<line x1="1643.8" y1="1733.2" x2="1643.8" y2="1775"/>
<line x1="1643.8" y1="65" x2="1643.8" y2="106.7"/>
<line x1="1875.0" y1="1733.2" x2="1875.0" y2="1775"/>
</g>
<g font-family="'Liberation Serif','Times New Roman',serif" font-size="80" fill="#000" letter-spacing="1.3">
<text x="168.4" y="1861.5">460</text>
<text x="403.2" y="1861.5">459</text>
<text x="641.7" y="1861.5">458</text>
<text x="873.0" y="1861.5">457</text>
<text x="1111.8" y="1861.5">456</text>
<text x="1345.8" y="1861.5">455</text>
<text x="1584.5" y="1861.5">454</text>
<text x="1815.7" y="1861.5">453</text>
</g>
<text x="715.5" y="1982.5" font-family="'Liberation Serif','Times New Roman',serif" font-size="80" letter-spacing="0.7" fill="#000">Binding energy / eV</text>
<text transform="translate(134.8,1226.9) rotate(-90)" font-family="'Liberation Serif','Times New Roman',serif" font-size="80" letter-spacing="0.3" fill="#000">Intensity (arb. unit)</text>
<g font-family="'Liberation Serif','Times New Roman',serif" font-size="80" fill="#000">
<text x="1329" y="273.4">Na<tspan font-size="58" dx="3.5" dy="16.5" letter-spacing="1.6">0.1</tspan><tspan dy="-16.5" letter-spacing="0.6">TiNCl</tspan></text>
<text x="1514" y="376.2" letter-spacing="2.3">Exp.</text>
<text x="1518" y="466">fitting</text>
<text x="1511" y="559.9">A</text>
<text x="1513" y="652.5">B</text>
<text x="1514" y="741">C</text>
<text x="1513" y="835.7">D</text>
</g>
<circle cx="1417" cy="348.3" r="22.5" fill="none" stroke="#ff0000" stroke-width="5.5"/>
<line x1="1347.3" y1="436.4" x2="1482" y2="436.4" stroke="#000" stroke-width="9.5"/>
<line x1="1347.3" y1="531.5" x2="1482" y2="531.5" stroke="#cc00ff" stroke-width="6"/>
<line x1="1347.3" y1="624.6" x2="1482" y2="624.6" stroke="#00b050" stroke-width="6"/>
<line x1="1347.3" y1="714.7" x2="1482" y2="714.7" stroke="#e67e00" stroke-width="6"/>
<rect x="1388.5" y="790.7" width="68.8" height="44" fill="#9b80ff" stroke="#2200ff" stroke-width="6.5"/>
<g clip-path="url(#ci)" fill="none" stroke-linejoin="round">
<polyline points="1567.8,906.7 1569.8,932.1 1571.8,954.6 1573.8,972.6 1575.8,987.6 1577.8,1000.7 1579.8,1012.7 1581.8,1024.2 1583.8,1034.8 1585.8,1044.8 1587.8,1054.4 1589.8,1063.9 1591.8,1073.7 1593.8,1083.9 1595.8,1094.3 1597.8,1104.7 1599.8,1114.7 1601.8,1124.0 1603.8,1132.5 1605.8,1140.4 1607.8,1147.8 1609.8,1155.0 1611.8,1162.1 1613.8,1169.4 1615.8,1176.7 1617.8,1184.1 1619.8,1191.3 1621.8,1198.5 1623.8,1205.6 1625.8,1212.6 1627.8,1219.5 1629.8,1226.9 1631.8,1233.9 1633.8,1239.8 1635.8,1243.9 1637.8,1247.3 1639.8,1250.4 1641.8,1253.1 1643.8,1255.6 1645.8,1257.9 1647.8,1260.0 1649.8,1262.1 1651.8,1264.1 1653.8,1266.1 1655.8,1268.3 1657.8,1270.5 1659.8,1272.7 1661.8,1275.0 1663.8,1277.3 1665.8,1279.5 1667.8,1281.7 1669.8,1283.8 1671.8,1285.9 1673.8,1287.8 1675.8,1289.7 1677.8,1291.5 1679.8,1293.1 1681.8,1294.6 1683.8,1296.0 1685.8,1297.3 1687.8,1298.5 1689.8,1299.7 1691.8,1300.8 1693.8,1301.9 1695.8,1302.9 1697.8,1303.8 1699.8,1304.8 1701.8,1305.7 1703.8,1306.5 1705.8,1307.3 1707.8,1308.1 1709.8,1308.9 1711.8,1309.6 1713.8,1310.3 1715.8,1311.0 1717.8,1311.6 1719.8,1312.3 1721.8,1312.9 1723.8,1313.5 1725.8,1314.1 1727.8,1314.7 1729.8,1315.2 1731.8,1315.7 1733.8,1316.3 1735.8,1316.8 1737.8,1317.3 1739.8,1317.8 1741.8,1318.3 1743.8,1318.8 1745.8,1319.2 1747.8,1319.7 1749.8,1320.1 1751.8,1320.6 1753.8,1321.0 1755.8,1321.5 1757.8,1321.9 1759.8,1322.3 1761.8,1322.7 1763.8,1323.1 1765.8,1323.5 1767.8,1323.8 1769.8,1324.2 1771.8,1324.5 1773.8,1324.8 1775.8,1325.1 1777.8,1325.4 1779.8,1325.7 1781.8,1326.0 1783.8,1326.3 1785.8,1326.6 1787.8,1326.9 1789.8,1327.1 1791.8,1327.4 1793.8,1327.7 1795.8,1328.0 1797.8,1328.2 1799.8,1328.5 1801.8,1328.8 1803.8,1329.0 1805.8,1329.3 1807.8,1329.5 1809.8,1329.7 1811.8,1330.0 1813.8,1330.2 1815.8,1330.4 1817.8,1330.6 1819.8,1330.8 1821.8,1331.1 1823.8,1331.2 1825.8,1331.4 1827.8,1331.6 1829.8,1331.8 1831.8,1331.9 1833.8,1332.1 1835.8,1332.2 1837.8,1332.4 1839.8,1332.5 1841.8,1332.6 1843.8,1332.7" stroke="#cc00ff" stroke-width="5.5"/>
<polyline points="1363.4,906.7 1365.4,955.4 1367.4,981.5 1369.4,998.4 1371.4,1011.8 1373.4,1024.9 1375.4,1037.6 1377.4,1049.5 1379.4,1060.4 1381.4,1070.4 1383.4,1079.5 1385.4,1087.6 1387.4,1095.2 1389.4,1102.4 1391.4,1109.4 1393.4,1116.5 1395.4,1123.9 1397.4,1131.5 1399.4,1139.1 1401.4,1146.6 1403.4,1153.8 1405.4,1160.6 1407.4,1166.9 1409.4,1172.7 1411.4,1178.1 1413.4,1183.3 1415.4,1188.3 1417.4,1193.1 1419.4,1197.7 1421.4,1202.4 1423.4,1207.0 1425.4,1211.6 1427.4,1216.3 1429.4,1221.0 1431.4,1225.7 1433.4,1230.2 1435.4,1234.5 1437.4,1238.6 1439.4,1242.5 1441.4,1246.0 1443.4,1249.2 1445.4,1252.2 1447.4,1255.0 1449.4,1257.7 1451.4,1260.3 1453.4,1262.8 1455.4,1265.1 1457.4,1267.4 1459.4,1269.6 1461.4,1271.7 1463.4,1273.8 1465.4,1275.8 1467.4,1277.8 1469.4,1279.7 1471.4,1281.5 1473.4,1283.3 1475.4,1285.0 1477.4,1286.7 1479.4,1288.3 1481.4,1289.9 1483.4,1291.5 1485.4,1293.0 1487.4,1294.5 1489.4,1296.0 1491.4,1297.4 1493.4,1298.8 1495.4,1300.2 1497.4,1301.4 1499.4,1302.6 1501.4,1303.6 1503.4,1304.6 1505.4,1305.5 1507.4,1306.5 1509.4,1307.4 1511.4,1308.3 1513.4,1309.1 1515.4,1310.0 1517.4,1310.8 1519.4,1311.6 1521.4,1312.3 1523.4,1313.0 1525.4,1313.7 1527.4,1314.4 1529.4,1315.1 1531.4,1315.7 1533.4,1316.3 1535.4,1316.8 1537.4,1317.4 1539.4,1317.9 1541.4,1318.3 1543.4,1318.8 1545.4,1319.2 1547.4,1319.7 1549.4,1320.1 1551.4,1320.5 1553.4,1320.9 1555.4,1321.3 1557.4,1321.7 1559.4,1322.1 1561.4,1322.5 1563.4,1322.8 1565.4,1323.2 1567.4,1323.5 1569.4,1323.8 1571.4,1324.2 1573.4,1324.5 1575.4,1324.8 1577.4,1325.1 1579.4,1325.4 1581.4,1325.7 1583.4,1326.0 1585.4,1326.2 1587.4,1326.5 1589.4,1326.7 1591.4,1327.0 1593.4,1327.2 1595.4,1327.5 1597.4,1327.7 1599.4,1327.9 1601.4,1328.2 1603.4,1328.4 1605.4,1328.5 1607.4,1328.7 1609.4,1328.9 1611.4,1329.1 1613.4,1329.2 1615.4,1329.4 1617.4,1329.5 1619.4,1329.6 1621.4,1329.8 1623.4,1329.9 1625.4,1330.0 1627.4,1330.1 1629.4,1330.2 1631.4,1330.4 1633.4,1330.5 1635.4,1330.6 1637.4,1330.7 1639.4,1330.8 1641.4,1331.0 1643.4,1331.1 1645.4,1331.3 1647.4,1331.4 1649.4,1331.6 1651.4,1331.7 1653.4,1331.9 1655.4,1332.1 1657.4,1332.3 1659.4,1332.5 1661.4,1332.8 1663.4,1333.0 1665.4,1333.3 1667.4,1333.6 1669.4,1334.0 1671.4,1334.6 1673.4,1335.2 1675.4,1336.0 1677.4,1336.9 1679.4,1337.7 1681.4,1338.6 1683.4,1339.4 1685.4,1340.2 1687.4,1340.9 1689.4,1341.5 1691.4,1341.9 1693.4,1342.2 1695.4,1342.3 1697.4,1342.4 1699.4,1342.6 1701.4,1342.7 1703.4,1342.8 1705.4,1342.9 1707.4,1343.0 1709.4,1343.1 1711.4,1343.2 1713.4,1343.3 1715.4,1343.4 1717.4,1343.4 1719.4,1343.5 1721.4,1343.6 1723.4,1343.6 1725.4,1343.7 1727.4,1343.8 1729.4,1343.8 1731.4,1343.9 1733.4,1343.9 1735.4,1344.0 1737.4,1344.0 1739.4,1344.1 1741.4,1344.1 1743.4,1344.2 1745.4,1344.2 1747.4,1344.3 1749.4,1344.3 1751.4,1344.3 1753.4,1344.4 1755.4,1344.4 1757.4,1344.4 1759.4,1344.5 1761.4,1344.5 1763.4,1344.6 1765.4,1344.6 1767.4,1344.7 1769.4,1344.7 1771.4,1344.7 1773.4,1344.8 1775.4,1344.8 1777.4,1344.9 1779.4,1344.9 1781.4,1345.0 1783.4,1345.0 1785.4,1345.1 1787.4,1345.1 1789.4,1345.2 1791.4,1345.2 1793.4,1345.3 1795.4,1345.3 1797.4,1345.3 1799.4,1345.4 1801.4,1345.4 1803.4,1345.5 1805.4,1345.5 1807.4,1345.6 1809.4,1345.6 1811.4,1345.6 1813.4,1345.7 1815.4,1345.7 1817.4,1345.8 1819.4,1345.8 1821.4,1345.8 1823.4,1345.9 1825.4,1345.9 1827.4,1345.9 1829.4,1346.0 1831.4,1346.0 1833.4,1346.0 1835.4,1346.1 1837.4,1346.1 1839.4,1346.1 1841.4,1346.1 1843.4,1346.2" stroke="#e67e00" stroke-width="5.5"/>
<polyline points="1398.9,906.7 1400.9,983.3 1402.9,1005.6 1404.9,1021.0 1406.9,1036.7 1408.9,1050.4 1410.9,1062.7 1412.9,1074.3 1414.9,1085.4 1416.9,1095.9 1418.9,1105.8 1420.9,1115.3 1422.9,1124.4 1424.9,1133.3 1426.9,1142.1 1428.9,1150.7 1430.9,1158.9 1432.9,1166.7 1434.9,1173.9 1436.9,1180.5 1438.9,1186.5 1440.9,1192.2 1442.9,1197.5 1444.9,1202.6 1446.9,1207.4 1448.9,1212.0 1450.9,1216.4 1452.9,1220.6 1454.9,1224.7 1456.9,1228.8 1458.9,1232.8 1460.9,1236.7 1462.9,1240.5 1464.9,1244.0 1466.9,1247.5 1468.9,1250.6 1470.9,1253.6 1472.9,1256.3 1474.9,1258.7 1476.9,1261.0 1478.9,1263.1 1480.9,1265.2 1482.9,1267.2 1484.9,1269.0 1486.9,1270.7 1488.9,1272.3 1490.9,1273.8 1492.9,1275.1 1494.9,1276.3 1496.9,1277.4 1498.9,1278.3 1500.9,1279.1 1502.9,1279.9 1504.9,1280.6 1506.9,1281.3 1508.9,1282.0 1510.9,1282.6 1512.9,1283.3 1514.9,1284.0 1516.9,1284.7 1518.9,1285.4 1520.9,1286.1 1522.9,1286.8 1524.9,1287.6 1526.9,1288.3 1528.9,1289.0 1530.9,1289.7 1532.9,1290.4 1534.9,1291.1 1536.9,1291.8 1538.9,1292.5 1540.9,1293.2 1542.9,1293.9 1544.9,1294.6 1546.9,1295.4 1548.9,1296.1 1550.9,1296.8 1552.9,1297.5 1554.9,1298.2 1556.9,1298.9 1558.9,1299.6 1560.9,1300.3 1562.9,1301.1 1564.9,1301.8 1566.9,1302.6 1568.9,1303.3 1570.9,1304.1 1572.9,1304.9 1574.9,1305.7 1576.9,1306.5 1578.9,1307.3 1580.9,1308.1 1582.9,1308.8 1584.9,1309.6 1586.9,1310.4 1588.9,1311.2 1590.9,1311.9 1592.9,1312.6 1594.9,1313.4 1596.9,1314.0 1598.9,1314.7 1600.9,1315.4 1602.9,1316.0 1604.9,1316.6 1606.9,1317.2 1608.9,1317.7 1610.9,1318.2 1612.9,1318.7 1614.9,1319.2 1616.9,1319.6 1618.9,1320.0 1620.9,1320.5 1622.9,1320.9 1624.9,1321.3 1626.9,1321.6 1628.9,1322.0 1630.9,1322.4 1632.9,1322.7 1634.9,1323.1 1636.9,1323.4 1638.9,1323.8 1640.9,1324.1 1642.9,1324.5 1644.9,1324.8 1646.9,1325.2 1648.9,1325.5 1650.9,1325.9 1652.9,1326.3 1654.9,1326.7 1656.9,1327.1 1658.9,1327.5 1660.9,1327.9 1662.9,1328.4 1664.9,1328.9 1666.9,1329.5 1668.9,1330.0 1670.9,1330.6 1672.9,1331.1 1674.9,1331.7 1676.9,1332.2 1678.9,1332.7 1680.9,1333.3 1682.9,1333.7 1684.9,1334.2 1686.9,1334.6 1688.9,1334.9 1690.9,1335.2 1692.9,1335.4 1694.9,1335.6 1696.9,1335.8 1698.9,1335.9 1700.9,1336.1 1702.9,1336.2 1704.9,1336.4 1706.9,1336.5 1708.9,1336.6 1710.9,1336.8 1712.9,1336.9 1714.9,1337.0 1716.9,1337.1 1718.9,1337.2 1720.9,1337.3 1722.9,1337.4 1724.9,1337.5 1726.9,1337.6 1728.9,1337.7 1730.9,1337.7 1732.9,1337.8 1734.9,1337.9 1736.9,1337.9 1738.9,1338.0 1740.9,1338.0 1742.9,1338.1 1744.9,1338.2 1746.9,1338.2 1748.9,1338.2 1750.9,1338.3 1752.9,1338.3 1754.9,1338.4 1756.9,1338.4 1758.9,1338.5 1760.9,1338.5 1762.9,1338.5 1764.9,1338.6 1766.9,1338.6 1768.9,1338.7 1770.9,1338.7 1772.9,1338.7 1774.9,1338.8 1776.9,1338.8 1778.9,1338.8 1780.9,1338.9 1782.9,1338.9 1784.9,1339.0 1786.9,1339.0 1788.9,1339.0 1790.9,1339.0 1792.9,1339.1 1794.9,1339.1 1796.9,1339.1 1798.9,1339.2 1800.9,1339.2 1802.9,1339.2 1804.9,1339.2 1806.9,1339.3 1808.9,1339.3 1810.9,1339.3 1812.9,1339.3 1814.9,1339.4 1816.9,1339.4 1818.9,1339.4 1820.9,1339.4 1822.9,1339.4 1824.9,1339.4 1826.9,1339.4 1828.9,1339.5 1830.9,1339.5 1832.9,1339.5 1834.9,1339.5 1836.9,1339.5 1838.9,1339.5 1840.9,1339.5 1842.9,1339.5 1844.9,1339.5" stroke="#00b050" stroke-width="5.5"/>
<polygon points="1340.0,1359.8 1342.0,1359.8 1344.0,1359.8 1346.0,1359.8 1348.0,1359.8 1350.0,1359.8 1352.0,1359.8 1354.0,1359.8 1356.0,1359.8 1358.0,1359.7 1360.0,1359.7 1362.0,1359.7 1364.0,1359.7 1366.0,1359.7 1368.0,1359.7 1370.0,1359.7 1372.0,1359.7 1374.0,1359.6 1376.0,1359.6 1378.0,1359.6 1380.0,1359.6 1382.0,1359.5 1384.0,1359.5 1386.0,1359.4 1388.0,1359.4 1390.0,1359.3 1392.0,1359.3 1394.0,1359.2 1396.0,1359.1 1398.0,1359.1 1400.0,1359.0 1402.0,1358.9 1404.0,1358.8 1406.0,1358.6 1408.0,1358.5 1410.0,1358.4 1412.0,1358.2 1414.0,1358.0 1416.0,1357.8 1418.0,1357.6 1420.0,1357.4 1422.0,1357.1 1424.0,1356.8 1426.0,1356.5 1428.0,1356.2 1430.0,1355.8 1432.0,1355.4 1434.0,1355.0 1436.0,1354.5 1438.0,1354.0 1440.0,1353.5 1442.0,1352.9 1444.0,1352.3 1446.0,1351.6 1448.0,1350.9 1450.0,1350.1 1452.0,1349.3 1454.0,1348.4 1456.0,1347.5 1458.0,1346.5 1460.0,1345.5 1462.0,1344.4 1464.0,1343.2 1466.0,1342.0 1468.0,1340.7 1470.0,1339.3 1472.0,1337.9 1474.0,1336.4 1476.0,1334.8 1478.0,1333.2 1480.0,1331.5 1482.0,1329.7 1484.0,1327.9 1486.0,1325.9 1488.0,1324.0 1490.0,1321.9 1492.0,1319.8 1494.0,1317.6 1496.0,1315.4 1498.0,1313.1 1500.0,1310.7 1502.0,1308.4 1504.0,1305.9 1506.0,1303.4 1508.0,1300.9 1510.0,1298.4 1512.0,1295.8 1514.0,1293.2 1516.0,1290.6 1518.0,1288.0 1520.0,1285.4 1522.0,1282.8 1524.0,1280.2 1526.0,1277.7 1528.0,1275.2 1530.0,1272.7 1532.0,1270.2 1534.0,1267.8 1536.0,1265.5 1538.0,1263.3 1540.0,1261.1 1542.0,1259.0 1544.0,1257.0 1546.0,1255.1 1548.0,1253.3 1550.0,1251.6 1552.0,1250.1 1554.0,1248.6 1556.0,1247.3 1558.0,1246.1 1560.0,1245.1 1562.0,1244.2 1564.0,1243.5 1566.0,1242.9 1568.0,1242.5 1570.0,1242.2 1572.0,1242.1 1574.0,1242.1 1576.0,1242.3 1578.0,1242.7 1580.0,1243.2 1582.0,1243.9 1584.0,1244.7 1586.0,1245.6 1588.0,1246.7 1590.0,1248.0 1592.0,1249.3 1594.0,1250.8 1596.0,1252.4 1598.0,1254.2 1600.0,1256.0 1602.0,1258.0 1604.0,1260.0 1606.0,1262.2 1608.0,1264.4 1610.0,1266.7 1612.0,1269.0 1614.0,1271.4 1616.0,1273.9 1618.0,1276.4 1620.0,1279.0 1622.0,1281.5 1624.0,1284.1 1626.0,1286.7 1628.0,1289.3 1630.0,1291.9 1632.0,1294.5 1634.0,1297.1 1636.0,1299.7 1638.0,1302.2 1640.0,1304.7 1642.0,1307.1 1644.0,1309.6 1646.0,1311.9 1648.0,1314.2 1650.0,1316.5 1652.0,1318.7 1654.0,1320.9 1656.0,1322.9 1658.0,1325.0 1660.0,1326.9 1662.0,1328.8 1664.0,1330.6 1666.0,1332.3 1668.0,1334.0 1670.0,1335.6 1672.0,1337.2 1674.0,1338.6 1676.0,1340.0 1678.0,1341.4 1680.0,1342.6 1682.0,1343.8 1684.0,1344.9 1686.0,1346.0 1688.0,1347.0 1690.0,1348.0 1692.0,1348.9 1694.0,1349.7 1696.0,1350.5 1698.0,1351.3 1700.0,1351.9 1702.0,1352.6 1704.0,1353.2 1706.0,1353.7 1708.0,1354.3 1710.0,1354.7 1712.0,1355.2 1714.0,1355.6 1716.0,1356.0 1718.0,1356.3 1720.0,1356.7 1722.0,1357.0 1724.0,1357.2 1726.0,1357.5 1728.0,1357.7 1730.0,1357.9 1732.0,1358.1 1734.0,1358.3 1736.0,1358.4 1738.0,1358.6 1740.0,1358.7 1742.0,1358.8 1744.0,1358.9 1746.0,1359.0 1748.0,1359.1 1750.0,1359.2 1752.0,1359.2 1754.0,1359.3 1756.0,1359.4 1758.0,1359.4 1760.0,1359.5 1762.0,1359.5 1764.0,1359.5 1766.0,1359.6 1768.0,1359.6 1770.0,1359.6 1772.0,1359.6 1774.0,1359.7 1776.0,1359.7 1778.0,1359.7 1780.0,1359.7 1782.0,1359.7 1784.0,1359.7 1786.0,1359.7 1788.0,1359.7 1790.0,1359.8 1792.0,1359.8 1794.0,1359.8 1796.0,1359.8 1798.0,1359.8 1800.0,1359.8 1802.0,1359.8 1804.0,1359.8 1806.0,1359.8 1808.0,1359.8 1810.0,1359.8 1812.0,1359.8 1814.0,1359.8 1816.0,1359.8 1818.0,1359.8 1820.0,1359.8 1822.0,1359.8 1824.0,1359.8 1826.0,1359.8 1828.0,1359.8 1830.0,1359.8 1832.0,1359.8 1834.0,1359.8 1836.0,1359.8 1838.0,1359.8 1840.0,1359.8 1842.0,1359.8 1844.0,1359.8 1845,1359.8 1340,1359.8" fill="#9b80ff" stroke="none"/>
<polyline points="1340.0,1359.8 1342.0,1359.8 1344.0,1359.8 1346.0,1359.8 1348.0,1359.8 1350.0,1359.8 1352.0,1359.8 1354.0,1359.8 1356.0,1359.8 1358.0,1359.7 1360.0,1359.7 1362.0,1359.7 1364.0,1359.7 1366.0,1359.7 1368.0,1359.7 1370.0,1359.7 1372.0,1359.7 1374.0,1359.6 1376.0,1359.6 1378.0,1359.6 1380.0,1359.6 1382.0,1359.5 1384.0,1359.5 1386.0,1359.4 1388.0,1359.4 1390.0,1359.3 1392.0,1359.3 1394.0,1359.2 1396.0,1359.1 1398.0,1359.1 1400.0,1359.0 1402.0,1358.9 1404.0,1358.8 1406.0,1358.6 1408.0,1358.5 1410.0,1358.4 1412.0,1358.2 1414.0,1358.0 1416.0,1357.8 1418.0,1357.6 1420.0,1357.4 1422.0,1357.1 1424.0,1356.8 1426.0,1356.5 1428.0,1356.2 1430.0,1355.8 1432.0,1355.4 1434.0,1355.0 1436.0,1354.5 1438.0,1354.0 1440.0,1353.5 1442.0,1352.9 1444.0,1352.3 1446.0,1351.6 1448.0,1350.9 1450.0,1350.1 1452.0,1349.3 1454.0,1348.4 1456.0,1347.5 1458.0,1346.5 1460.0,1345.5 1462.0,1344.4 1464.0,1343.2 1466.0,1342.0 1468.0,1340.7 1470.0,1339.3 1472.0,1337.9 1474.0,1336.4 1476.0,1334.8 1478.0,1333.2 1480.0,1331.5 1482.0,1329.7 1484.0,1327.9 1486.0,1325.9 1488.0,1324.0 1490.0,1321.9 1492.0,1319.8 1494.0,1317.6 1496.0,1315.4 1498.0,1313.1 1500.0,1310.7 1502.0,1308.4 1504.0,1305.9 1506.0,1303.4 1508.0,1300.9 1510.0,1298.4 1512.0,1295.8 1514.0,1293.2 1516.0,1290.6 1518.0,1288.0 1520.0,1285.4 1522.0,1282.8 1524.0,1280.2 1526.0,1277.7 1528.0,1275.2 1530.0,1272.7 1532.0,1270.2 1534.0,1267.8 1536.0,1265.5 1538.0,1263.3 1540.0,1261.1 1542.0,1259.0 1544.0,1257.0 1546.0,1255.1 1548.0,1253.3 1550.0,1251.6 1552.0,1250.1 1554.0,1248.6 1556.0,1247.3 1558.0,1246.1 1560.0,1245.1 1562.0,1244.2 1564.0,1243.5 1566.0,1242.9 1568.0,1242.5 1570.0,1242.2 1572.0,1242.1 1574.0,1242.1 1576.0,1242.3 1578.0,1242.7 1580.0,1243.2 1582.0,1243.9 1584.0,1244.7 1586.0,1245.6 1588.0,1246.7 1590.0,1248.0 1592.0,1249.3 1594.0,1250.8 1596.0,1252.4 1598.0,1254.2 1600.0,1256.0 1602.0,1258.0 1604.0,1260.0 1606.0,1262.2 1608.0,1264.4 1610.0,1266.7 1612.0,1269.0 1614.0,1271.4 1616.0,1273.9 1618.0,1276.4 1620.0,1279.0 1622.0,1281.5 1624.0,1284.1 1626.0,1286.7 1628.0,1289.3 1630.0,1291.9 1632.0,1294.5 1634.0,1297.1 1636.0,1299.7 1638.0,1302.2 1640.0,1304.7 1642.0,1307.1 1644.0,1309.6 1646.0,1311.9 1648.0,1314.2 1650.0,1316.5 1652.0,1318.7 1654.0,1320.9 1656.0,1322.9 1658.0,1325.0 1660.0,1326.9 1662.0,1328.8 1664.0,1330.6 1666.0,1332.3 1668.0,1334.0 1670.0,1335.6 1672.0,1337.2 1674.0,1338.6 1676.0,1340.0 1678.0,1341.4 1680.0,1342.6 1682.0,1343.8 1684.0,1344.9 1686.0,1346.0 1688.0,1347.0 1690.0,1348.0 1692.0,1348.9 1694.0,1349.7 1696.0,1350.5 1698.0,1351.3 1700.0,1351.9 1702.0,1352.6 1704.0,1353.2 1706.0,1353.7 1708.0,1354.3 1710.0,1354.7 1712.0,1355.2 1714.0,1355.6 1716.0,1356.0 1718.0,1356.3 1720.0,1356.7 1722.0,1357.0 1724.0,1357.2 1726.0,1357.5 1728.0,1357.7 1730.0,1357.9 1732.0,1358.1 1734.0,1358.3 1736.0,1358.4 1738.0,1358.6 1740.0,1358.7 1742.0,1358.8 1744.0,1358.9 1746.0,1359.0 1748.0,1359.1 1750.0,1359.2 1752.0,1359.2 1754.0,1359.3 1756.0,1359.4 1758.0,1359.4 1760.0,1359.5 1762.0,1359.5 1764.0,1359.5 1766.0,1359.6 1768.0,1359.6 1770.0,1359.6 1772.0,1359.6 1774.0,1359.7 1776.0,1359.7 1778.0,1359.7 1780.0,1359.7 1782.0,1359.7 1784.0,1359.7 1786.0,1359.7 1788.0,1359.7 1790.0,1359.8 1792.0,1359.8 1794.0,1359.8 1796.0,1359.8 1798.0,1359.8 1800.0,1359.8 1802.0,1359.8 1804.0,1359.8 1806.0,1359.8 1808.0,1359.8 1810.0,1359.8 1812.0,1359.8 1814.0,1359.8 1816.0,1359.8 1818.0,1359.8 1820.0,1359.8 1822.0,1359.8 1824.0,1359.8 1826.0,1359.8 1828.0,1359.8 1830.0,1359.8 1832.0,1359.8 1834.0,1359.8 1836.0,1359.8 1838.0,1359.8 1840.0,1359.8 1842.0,1359.8 1844.0,1359.8" stroke="#2200ff" stroke-width="5.5"/>
</g>
<g clip-path="url(#cic)" fill="none" stroke="#ff0000" stroke-width="5.5">
<circle cx="1608.1" cy="974.8" r="19.8"/>
<circle cx="1625.5" cy="1032.2" r="19.8"/>
<circle cx="1637.5" cy="1103.0" r="19.8"/>
<circle cx="1653.5" cy="1155.1" r="19.8"/>
<circle cx="1665.5" cy="1215.3" r="19.8"/>
<circle cx="1677.6" cy="1217.9" r="19.8"/>
<circle cx="1694.9" cy="1287.4" r="19.8"/>
<circle cx="1704.3" cy="1314.1" r="19.8"/>
<circle cx="1725.6" cy="1298.1" r="19.8"/>
<circle cx="1740.0" cy="1325.0" r="19.8"/>
<circle cx="1765.7" cy="1354.2" r="19.8"/>
<circle cx="1795.1" cy="1364.9" r="19.8"/>
<circle cx="1792.4" cy="1316.8" r="19.8"/>
<circle cx="1816.5" cy="1316.8" r="19.8"/>
<circle cx="1840.5" cy="1348.8" r="19.8"/>
</g>
<g clip-path="url(#ci)" fill="none" stroke-linejoin="round"><polyline points="1597.2,906.7 1599.2,933.7 1601.2,955.2 1603.2,971.0 1605.2,984.3 1607.2,996.3 1609.2,1008.1 1611.2,1019.7 1613.2,1030.8 1615.2,1041.5 1617.2,1052.0 1619.2,1062.4 1621.2,1073.2 1623.2,1084.1 1625.2,1094.7 1627.2,1104.3 1629.2,1112.6 1631.2,1119.5 1633.2,1125.6 1635.2,1131.3 1637.2,1136.5 1639.2,1141.4 1641.2,1146.2 1643.2,1150.9 1645.2,1155.8 1647.2,1160.7 1649.2,1165.5 1651.2,1170.2 1653.2,1174.8 1655.2,1179.4 1657.2,1183.9 1659.2,1188.5 1661.2,1193.2 1663.2,1198.1 1665.2,1203.4 1667.2,1208.8 1669.2,1214.1 1671.2,1218.9 1673.2,1223.1 1675.2,1226.3 1677.2,1228.9 1679.2,1231.2 1681.2,1233.2 1683.2,1235.1 1685.2,1236.8 1687.2,1238.5 1689.2,1240.1 1691.2,1241.8 1693.2,1243.4 1695.2,1245.0 1697.2,1246.5 1699.2,1247.9 1701.2,1249.3 1703.2,1250.6 1705.2,1251.7 1707.2,1252.8 1709.2,1253.7 1711.2,1254.5 1713.2,1255.2 1715.2,1255.9 1717.2,1256.7 1719.2,1257.5 1721.2,1258.4 1723.2,1259.5 1725.2,1260.7 1727.2,1262.0 1729.2,1263.4 1731.2,1264.8 1733.2,1266.1 1735.2,1267.5 1737.2,1268.8 1739.2,1270.0 1741.2,1271.1 1743.2,1272.2 1745.2,1273.2 1747.2,1274.2 1749.2,1275.2 1751.2,1276.2 1753.2,1277.2 1755.2,1278.2 1757.2,1279.1 1759.2,1280.0 1761.2,1280.8 1763.2,1281.6 1765.2,1282.4 1767.2,1283.0 1769.2,1283.6 1771.2,1284.2 1773.2,1284.6 1775.2,1285.0 1777.2,1285.3 1779.2,1285.5 1781.2,1285.7 1783.2,1285.9 1785.2,1286.1 1787.2,1286.3 1789.2,1286.5 1791.2,1286.7 1793.2,1287.1 1795.2,1287.4 1797.2,1288.0 1799.2,1288.9 1801.2,1290.0 1803.2,1291.3 1805.2,1292.6 1807.2,1294.0 1809.2,1295.3 1811.2,1296.4 1813.2,1297.3 1815.2,1297.9 1817.2,1298.2 1819.2,1298.3 1821.2,1298.5 1823.2,1298.6 1825.2,1298.8 1827.2,1298.9 1829.2,1299.0 1831.2,1299.1 1833.2,1299.2 1835.2,1299.2 1837.2,1299.3 1839.2,1299.3 1841.2,1299.4 1843.2,1299.4" stroke="#000" stroke-width="9"/></g>
<g stroke="#000" stroke-width="5" fill="none">
<line x1="1342.6" y1="888.8" x2="1342.6" y2="1399.7"/>
<line x1="1839.8" y1="909.5" x2="1839.8" y2="1399.7"/>
<line x1="1340.1" y1="911.9" x2="1842.3" y2="911.9"/>
<line x1="1340.1" y1="1404.2" x2="1839.8" y2="1404.2"/>
<line x1="1343.1" y1="1404.2" x2="1343.1" y2="1432.5"/>
<line x1="1374.3" y1="895.5" x2="1374.3" y2="911.9"/>
<line x1="1374.3" y1="1404.2" x2="1374.3" y2="1426"/>
<line x1="1401.7" y1="895.5" x2="1401.7" y2="911.9"/>
<line x1="1401.7" y1="1404.2" x2="1401.7" y2="1426"/>
<line x1="1433.2" y1="895.5" x2="1433.2" y2="911.9"/>
<line x1="1433.2" y1="1404.2" x2="1433.2" y2="1426"/>
<line x1="1457.2" y1="895.5" x2="1457.2" y2="911.9"/>
<line x1="1457.2" y1="1404.2" x2="1457.2" y2="1426"/>
<line x1="1485.2" y1="878" x2="1485.2" y2="911.9"/>
<line x1="1485.2" y1="1404.2" x2="1485.2" y2="1442.2"/>
<line x1="1515.8" y1="895.5" x2="1515.8" y2="911.9"/>
<line x1="1515.8" y1="1404.2" x2="1515.8" y2="1426"/>
<line x1="1543.3" y1="895.5" x2="1543.3" y2="911.9"/>
<line x1="1543.3" y1="1404.2" x2="1543.3" y2="1426"/>
<line x1="1571.3" y1="895.5" x2="1571.3" y2="911.9"/>
<line x1="1571.3" y1="1404.2" x2="1571.3" y2="1426"/>
<line x1="1602.5" y1="895.5" x2="1602.5" y2="911.9"/>
<line x1="1602.5" y1="1404.2" x2="1602.5" y2="1426"/>
<line x1="1630.5" y1="888.8" x2="1630.5" y2="911.9"/>
<line x1="1630.5" y1="1404.2" x2="1630.5" y2="1432.5"/>
<line x1="1654.5" y1="895.5" x2="1654.5" y2="911.9"/>
<line x1="1654.5" y1="1404.2" x2="1654.5" y2="1426"/>
<line x1="1685.4" y1="895.5" x2="1685.4" y2="911.9"/>
<line x1="1685.4" y1="1404.2" x2="1685.4" y2="1426"/>
<line x1="1712.8" y1="895.5" x2="1712.8" y2="911.9"/>
<line x1="1712.8" y1="1404.2" x2="1712.8" y2="1426"/>
<line x1="1740.9" y1="895.5" x2="1740.9" y2="911.9"/>
<line x1="1740.9" y1="1404.2" x2="1740.9" y2="1426"/>
<line x1="1772.0" y1="878" x2="1772.0" y2="911.9"/>
<line x1="1772.0" y1="1404.2" x2="1772.0" y2="1442.2"/>
<line x1="1799.5" y1="895.5" x2="1799.5" y2="911.9"/>
<line x1="1799.5" y1="1404.2" x2="1799.5" y2="1426"/>
<line x1="1830.7" y1="895.5" x2="1830.7" y2="911.9"/>
<line x1="1830.7" y1="1404.2" x2="1830.7" y2="1426"/>
</g>
<g font-family="'Liberation Serif','Times New Roman',serif" font-size="80" fill="#000" letter-spacing="1.3">
<text x="1391.5" y="1533.1">456.0</text>
<text x="1675.5" y="1533.1">454.0</text>
</g>
</svg>
</body></html>
